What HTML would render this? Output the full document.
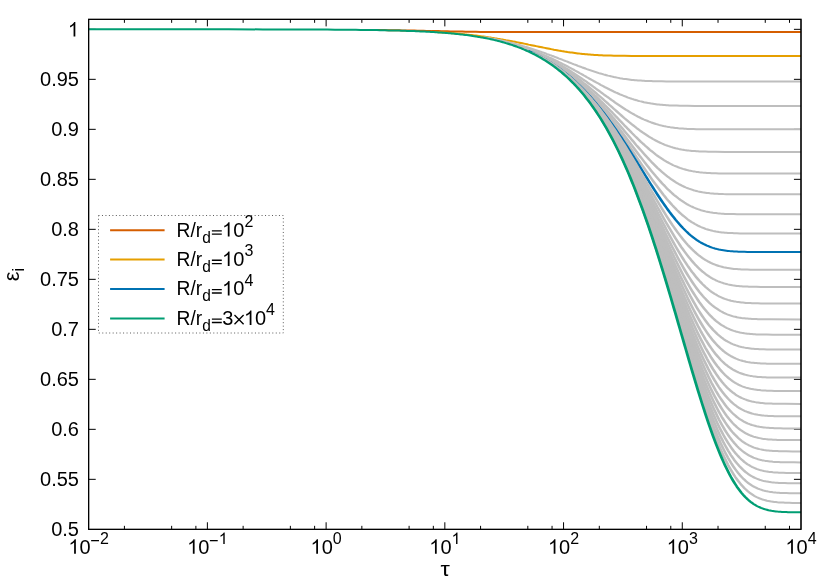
<!DOCTYPE html>
<html><head><meta charset="utf-8"><title>plot</title>
<style>
html,body{margin:0;padding:0;background:#fff;}
svg{display:block;will-change:transform;font-family:"Liberation Sans",sans-serif;font-size:20px;fill:#000;}
</style></head><body>
<svg width="830" height="581" viewBox="0 0 830 581">
<rect width="830" height="581" fill="#fff"/>
<path d="M124.41,529.33 v-3.5 M124.41,19.33 v3.5 M171.65,529.33 v-3.5 M171.65,19.33 v3.5 M195.89,529.33 v-3.5 M195.89,19.33 v3.5 M207.39,529.33 v-7.05 M207.39,19.33 v7.05 M243.13,529.33 v-3.5 M243.13,19.33 v3.5 M290.37,529.33 v-3.5 M290.37,19.33 v3.5 M314.61,529.33 v-3.5 M314.61,19.33 v3.5 M326.11,529.33 v-7.05 M326.11,19.33 v7.05 M361.85,529.33 v-3.5 M361.85,19.33 v3.5 M409.10,529.33 v-3.5 M409.10,19.33 v3.5 M433.33,529.33 v-3.5 M433.33,19.33 v3.5 M444.84,529.33 v-7.05 M444.84,19.33 v7.05 M480.57,529.33 v-3.5 M480.57,19.33 v3.5 M527.82,529.33 v-3.5 M527.82,19.33 v3.5 M552.05,529.33 v-3.5 M552.05,19.33 v3.5 M563.56,529.33 v-7.05 M563.56,19.33 v7.05 M599.30,529.33 v-3.5 M599.30,19.33 v3.5 M646.54,529.33 v-3.5 M646.54,19.33 v3.5 M670.77,529.33 v-3.5 M670.77,19.33 v3.5 M682.28,529.33 v-7.05 M682.28,19.33 v7.05 M718.02,529.33 v-3.5 M718.02,19.33 v3.5 M765.26,529.33 v-3.5 M765.26,19.33 v3.5 M789.49,529.33 v-3.5 M789.49,19.33 v3.5 M88.67,479.33 h7.05 M801.0,479.33 h-7.05 M88.67,429.33 h7.05 M801.0,429.33 h-7.05 M88.67,379.33 h7.05 M801.0,379.33 h-7.05 M88.67,329.33 h7.05 M801.0,329.33 h-7.05 M88.67,279.33 h7.05 M801.0,279.33 h-7.05 M88.67,229.33 h7.05 M801.0,229.33 h-7.05 M88.67,179.33 h7.05 M801.0,179.33 h-7.05 M88.67,129.33 h7.05 M801.0,129.33 h-7.05 M88.67,79.33 h7.05 M801.0,79.33 h-7.05 M88.67,29.33 h7.05 M801.0,29.33 h-7.05" stroke="#000" stroke-width="1" fill="none"/>
<clipPath id="c"><rect x="88.67" y="19.33" width="712.33" height="510.00"/></clipPath>
<g clip-path="url(#c)"><g transform="scale(1.4,1)" fill="none" stroke-width="2" stroke-linejoin="round">
<path d="M269.21,30.0 L272.43,30.1 L274.57,30.1 L276.71,30.2 L278.86,30.2 L281.00,30.2 L283.14,30.3 L285.29,30.3 L287.43,30.4 L289.57,30.5 L291.71,30.5 L293.86,30.6 L296.00,30.6 L298.14,30.7 L300.29,30.8 L302.43,30.8 L304.57,30.9 L306.71,30.9 L308.86,31.0 L311.00,31.1 L313.14,31.1 L315.29,31.2 L317.43,31.3 L319.57,31.3 L321.71,31.4 L323.86,31.5 L326.00,31.5 L328.14,31.6 L330.29,31.6 L332.43,31.7 L334.57,31.7 L336.71,31.8 L339.93,31.8 L343.14,31.9 L347.43,31.9 L352.79,32.0 L363.50,32.0 L572.50,32.0" stroke="#D55E00"/>
<path d="M307.79,31.8 L308.86,31.9 L309.93,32.0 L311.00,32.0 L312.07,32.1 L313.14,32.2 L314.21,32.3 L315.29,32.4 L316.36,32.5 L317.43,32.6 L318.50,32.7 L319.57,32.8 L320.64,32.9 L321.71,33.0 L322.79,33.2 L323.86,33.3 L324.93,33.4 L326.00,33.5 L327.07,33.7 L328.14,33.8 L329.21,34.0 L330.29,34.1 L331.36,34.2 L332.43,34.4 L333.50,34.6 L334.57,34.7 L335.64,34.9 L336.71,35.0 L337.79,35.2 L338.86,35.4 L339.93,35.6 L341.00,35.8 L342.07,36.0 L343.14,36.2 L344.21,36.4 L345.29,36.6 L346.36,36.8 L347.43,37.0 L348.50,37.2 L349.57,37.4 L350.64,37.6 L351.71,37.9 L352.79,38.1 L353.86,38.4 L354.93,38.6 L356.00,38.9 L357.07,39.1 L358.14,39.4 L359.21,39.6 L360.29,39.9 L361.36,40.2 L362.43,40.4 L363.50,40.7 L364.57,41.0 L365.64,41.3 L366.71,41.6 L367.79,41.8 L368.86,42.1 L369.93,42.4 L371.00,42.7 L372.07,43.0 L373.14,43.3 L374.21,43.6 L375.29,43.9 L376.36,44.2 L377.43,44.6 L378.50,44.9 L379.57,45.2 L380.64,45.5 L381.71,45.8 L382.79,46.1 L383.86,46.4 L384.93,46.7 L386.00,47.0 L387.07,47.3 L388.14,47.6 L389.21,47.9 L390.29,48.2 L391.36,48.5 L392.43,48.8 L393.50,49.1 L394.57,49.4 L395.64,49.7 L396.71,49.9 L397.79,50.2 L398.86,50.5 L399.93,50.7 L401.00,51.0 L402.07,51.2 L403.14,51.5 L404.21,51.7 L405.29,52.0 L406.36,52.2 L407.43,52.4 L408.50,52.6 L409.57,52.8 L410.64,53.0 L411.71,53.2 L412.79,53.4 L413.86,53.6 L414.93,53.7 L416.00,53.9 L417.07,54.0 L418.14,54.2 L419.21,54.3 L420.29,54.5 L421.36,54.6 L422.43,54.7 L423.50,54.8 L424.57,54.9 L425.64,55.0 L426.71,55.1 L427.79,55.2 L428.86,55.2 L429.93,55.3 L431.00,55.4 L432.07,55.4 L433.14,55.5 L434.21,55.5 L435.29,55.6 L436.36,55.6 L438.50,55.7 L440.64,55.7 L442.79,55.8 L446.00,55.8 L451.36,55.9 L572.50,55.9" stroke="#E69F00"/>
<path d="M345.29,37.1 L346.36,37.4 L347.43,37.6 L348.50,37.9 L349.57,38.1 L350.64,38.4 L351.71,38.7 L352.79,39.0 L353.86,39.3 L354.93,39.6 L356.00,39.9 L357.07,40.2 L358.14,40.5 L359.21,40.9 L360.29,41.2 L361.36,41.5 L362.43,41.9 L363.50,42.3 L364.57,42.6 L365.64,43.0 L366.71,43.4 L367.79,43.8 L368.86,44.2 L369.93,44.6 L371.00,45.0 L372.07,45.4 L373.14,45.9 L374.21,46.3 L375.29,46.8 L376.36,47.2 L377.43,47.7 L378.50,48.1 L379.57,48.6 L380.64,49.1 L381.71,49.6 L382.79,50.1 L383.86,50.6 L384.93,51.1 L386.00,51.6 L387.07,52.2 L388.14,52.7 L389.21,53.2 L390.29,53.8 L391.36,54.3 L392.43,54.9 L393.50,55.4 L394.57,56.0 L395.64,56.5 L396.71,57.1 L397.79,57.7 L398.86,58.3 L399.93,58.8 L401.00,59.4 L402.07,60.0 L403.14,60.6 L404.21,61.2 L405.29,61.7 L406.36,62.3 L407.43,62.9 L408.50,63.5 L409.57,64.1 L410.64,64.6 L411.71,65.2 L412.79,65.8 L413.86,66.3 L414.93,66.9 L416.00,67.5 L417.07,68.0 L418.14,68.5 L419.21,69.1 L420.29,69.6 L421.36,70.1 L422.43,70.6 L423.50,71.1 L424.57,71.6 L425.64,72.1 L426.71,72.6 L427.79,73.1 L428.86,73.5 L429.93,73.9 L431.00,74.4 L432.07,74.8 L433.14,75.2 L434.21,75.6 L435.29,75.9 L436.36,76.3 L437.43,76.6 L438.50,77.0 L439.57,77.3 L440.64,77.6 L441.71,77.9 L442.79,78.2 L443.86,78.4 L444.93,78.7 L446.00,78.9 L447.07,79.1 L448.14,79.3 L449.21,79.5 L450.29,79.7 L451.36,79.9 L452.43,80.0 L453.50,80.2 L454.57,80.3 L455.64,80.4 L456.71,80.5 L457.79,80.6 L458.86,80.7 L459.93,80.8 L461.00,80.9 L462.07,80.9 L463.14,81.0 L464.21,81.1 L465.29,81.1 L466.36,81.2 L468.50,81.2 L470.64,81.3 L472.79,81.3 L476.00,81.4 L483.50,81.4 L572.50,81.4" stroke="#BEBEBE"/>
<path d="M352.79,39.3 L353.86,39.6 L354.93,39.9 L356.00,40.3 L357.07,40.6 L358.14,41.0 L359.21,41.3 L360.29,41.7 L361.36,42.1 L362.43,42.4 L363.50,42.8 L364.57,43.2 L365.64,43.7 L366.71,44.1 L367.79,44.5 L368.86,45.0 L369.93,45.4 L371.00,45.9 L372.07,46.4 L373.14,46.9 L374.21,47.4 L375.29,47.9 L376.36,48.4 L377.43,48.9 L378.50,49.5 L379.57,50.0 L380.64,50.6 L381.71,51.1 L382.79,51.7 L383.86,52.3 L384.93,52.9 L386.00,53.6 L387.07,54.2 L388.14,54.8 L389.21,55.5 L390.29,56.1 L391.36,56.8 L392.43,57.5 L393.50,58.2 L394.57,58.9 L395.64,59.6 L396.71,60.3 L397.79,61.0 L398.86,61.8 L399.93,62.5 L401.00,63.3 L402.07,64.1 L403.14,64.8 L404.21,65.6 L405.29,66.4 L406.36,67.2 L407.43,68.0 L408.50,68.8 L409.57,69.6 L410.64,70.5 L411.71,71.3 L412.79,72.1 L413.86,73.0 L414.93,73.8 L416.00,74.6 L417.07,75.5 L418.14,76.3 L419.21,77.2 L420.29,78.0 L421.36,78.9 L422.43,79.7 L423.50,80.5 L424.57,81.4 L425.64,82.2 L426.71,83.0 L427.79,83.8 L428.86,84.7 L429.93,85.5 L431.00,86.3 L432.07,87.1 L433.14,87.8 L434.21,88.6 L435.29,89.4 L436.36,90.1 L437.43,90.8 L438.50,91.6 L439.57,92.3 L440.64,92.9 L441.71,93.6 L442.79,94.3 L443.86,94.9 L444.93,95.5 L446.00,96.1 L447.07,96.7 L448.14,97.3 L449.21,97.8 L450.29,98.3 L451.36,98.9 L452.43,99.3 L453.50,99.8 L454.57,100.2 L455.64,100.7 L456.71,101.1 L457.79,101.4 L458.86,101.8 L459.93,102.2 L461.00,102.5 L462.07,102.8 L463.14,103.1 L464.21,103.3 L465.29,103.6 L466.36,103.8 L467.43,104.0 L468.50,104.2 L469.57,104.4 L470.64,104.5 L471.71,104.7 L472.79,104.8 L473.86,105.0 L474.93,105.1 L476.00,105.2 L477.07,105.3 L478.14,105.4 L479.21,105.4 L480.29,105.5 L481.36,105.5 L482.43,105.6 L483.50,105.6 L485.64,105.7 L487.79,105.8 L491.00,105.8 L496.36,105.9 L572.50,105.9" stroke="#BEBEBE"/>
<path d="M357.07,40.8 L358.14,41.2 L359.21,41.5 L360.29,41.9 L361.36,42.3 L362.43,42.7 L363.50,43.1 L364.57,43.6 L365.64,44.0 L366.71,44.5 L367.79,44.9 L368.86,45.4 L369.93,45.9 L371.00,46.4 L372.07,46.9 L373.14,47.4 L374.21,47.9 L375.29,48.5 L376.36,49.0 L377.43,49.6 L378.50,50.2 L379.57,50.8 L380.64,51.4 L381.71,52.0 L382.79,52.6 L383.86,53.3 L384.93,53.9 L386.00,54.6 L387.07,55.3 L388.14,56.0 L389.21,56.7 L390.29,57.4 L391.36,58.2 L392.43,58.9 L393.50,59.7 L394.57,60.5 L395.64,61.3 L396.71,62.1 L397.79,62.9 L398.86,63.8 L399.93,64.6 L401.00,65.5 L402.07,66.4 L403.14,67.3 L404.21,68.2 L405.29,69.1 L406.36,70.0 L407.43,71.0 L408.50,72.0 L409.57,72.9 L410.64,73.9 L411.71,74.9 L412.79,75.9 L413.86,76.9 L414.93,77.9 L416.00,79.0 L417.07,80.0 L418.14,81.1 L419.21,82.1 L420.29,83.2 L421.36,84.3 L422.43,85.3 L423.50,86.4 L424.57,87.5 L425.64,88.6 L426.71,89.7 L427.79,90.8 L428.86,91.9 L429.93,93.0 L431.00,94.1 L432.07,95.2 L433.14,96.3 L434.21,97.3 L435.29,98.4 L436.36,99.5 L437.43,100.6 L438.50,101.6 L439.57,102.7 L440.64,103.7 L441.71,104.7 L442.79,105.7 L443.86,106.7 L444.93,107.7 L446.00,108.7 L447.07,109.7 L448.14,110.6 L449.21,111.5 L450.29,112.4 L451.36,113.3 L452.43,114.1 L453.50,115.0 L454.57,115.8 L455.64,116.6 L456.71,117.3 L457.79,118.1 L458.86,118.8 L459.93,119.5 L461.00,120.1 L462.07,120.7 L463.14,121.4 L464.21,121.9 L465.29,122.5 L466.36,123.0 L467.43,123.5 L468.50,124.0 L469.57,124.4 L470.64,124.9 L471.71,125.3 L472.79,125.6 L473.86,126.0 L474.93,126.3 L476.00,126.6 L477.07,126.9 L478.14,127.1 L479.21,127.4 L480.29,127.6 L481.36,127.8 L482.43,128.0 L483.50,128.1 L484.57,128.3 L485.64,128.4 L486.71,128.5 L487.79,128.6 L488.86,128.7 L489.93,128.8 L491.00,128.9 L492.07,129.0 L493.14,129.0 L494.21,129.1 L495.29,129.1 L497.43,129.2 L499.57,129.2 L502.79,129.3 L509.21,129.3 L572.50,129.3" stroke="#BEBEBE"/>
<path d="M361.36,42.5 L362.43,42.9 L363.50,43.3 L364.57,43.8 L365.64,44.2 L366.71,44.7 L367.79,45.2 L368.86,45.6 L369.93,46.1 L371.00,46.6 L372.07,47.2 L373.14,47.7 L374.21,48.3 L375.29,48.8 L376.36,49.4 L377.43,50.0 L378.50,50.6 L379.57,51.2 L380.64,51.9 L381.71,52.5 L382.79,53.2 L383.86,53.8 L384.93,54.5 L386.00,55.3 L387.07,56.0 L388.14,56.7 L389.21,57.5 L390.29,58.3 L391.36,59.0 L392.43,59.9 L393.50,60.7 L394.57,61.5 L395.64,62.4 L396.71,63.3 L397.79,64.1 L398.86,65.1 L399.93,66.0 L401.00,66.9 L402.07,67.9 L403.14,68.9 L404.21,69.9 L405.29,70.9 L406.36,71.9 L407.43,72.9 L408.50,74.0 L409.57,75.1 L410.64,76.2 L411.71,77.3 L412.79,78.4 L413.86,79.5 L414.93,80.7 L416.00,81.9 L417.07,83.1 L418.14,84.2 L419.21,85.5 L420.29,86.7 L421.36,87.9 L422.43,89.2 L423.50,90.4 L424.57,91.7 L425.64,93.0 L426.71,94.3 L427.79,95.6 L428.86,96.9 L429.93,98.2 L431.00,99.5 L432.07,100.9 L433.14,102.2 L434.21,103.5 L435.29,104.9 L436.36,106.2 L437.43,107.5 L438.50,108.9 L439.57,110.2 L440.64,111.5 L441.71,112.8 L442.79,114.2 L443.86,115.5 L444.93,116.8 L446.00,118.1 L447.07,119.3 L448.14,120.6 L449.21,121.9 L450.29,123.1 L451.36,124.3 L452.43,125.5 L453.50,126.7 L454.57,127.9 L455.64,129.0 L456.71,130.1 L457.79,131.2 L458.86,132.3 L459.93,133.3 L461.00,134.3 L462.07,135.3 L463.14,136.3 L464.21,137.2 L465.29,138.1 L466.36,139.0 L467.43,139.8 L468.50,140.6 L469.57,141.4 L470.64,142.1 L471.71,142.8 L472.79,143.5 L473.86,144.2 L474.93,144.8 L476.00,145.3 L477.07,145.9 L478.14,146.4 L479.21,146.9 L480.29,147.3 L481.36,147.8 L482.43,148.2 L483.50,148.5 L484.57,148.9 L485.64,149.2 L486.71,149.5 L487.79,149.7 L488.86,150.0 L489.93,150.2 L491.00,150.4 L492.07,150.6 L493.14,150.7 L494.21,150.9 L495.29,151.0 L496.36,151.1 L497.43,151.2 L498.50,151.3 L499.57,151.4 L500.64,151.5 L501.71,151.5 L502.79,151.6 L503.86,151.6 L506.00,151.7 L508.14,151.8 L511.36,151.8 L517.79,151.9 L572.50,151.9" stroke="#BEBEBE"/>
<path d="M365.64,44.4 L366.71,44.8 L367.79,45.3 L368.86,45.8 L369.93,46.3 L371.00,46.8 L372.07,47.4 L373.14,47.9 L374.21,48.5 L375.29,49.1 L376.36,49.7 L377.43,50.3 L378.50,50.9 L379.57,51.5 L380.64,52.2 L381.71,52.9 L382.79,53.5 L383.86,54.2 L384.93,55.0 L386.00,55.7 L387.07,56.5 L388.14,57.2 L389.21,58.0 L390.29,58.8 L391.36,59.6 L392.43,60.5 L393.50,61.4 L394.57,62.2 L395.64,63.1 L396.71,64.0 L397.79,65.0 L398.86,65.9 L399.93,66.9 L401.00,67.9 L402.07,68.9 L403.14,70.0 L404.21,71.0 L405.29,72.1 L406.36,73.2 L407.43,74.3 L408.50,75.4 L409.57,76.6 L410.64,77.8 L411.71,79.0 L412.79,80.2 L413.86,81.4 L414.93,82.7 L416.00,83.9 L417.07,85.2 L418.14,86.5 L419.21,87.9 L420.29,89.2 L421.36,90.6 L422.43,91.9 L423.50,93.3 L424.57,94.8 L425.64,96.2 L426.71,97.6 L427.79,99.1 L428.86,100.6 L429.93,102.0 L431.00,103.5 L432.07,105.1 L433.14,106.6 L434.21,108.1 L435.29,109.6 L436.36,111.2 L437.43,112.7 L438.50,114.3 L439.57,115.9 L440.64,117.4 L441.71,119.0 L442.79,120.6 L443.86,122.1 L444.93,123.7 L446.00,125.3 L447.07,126.8 L448.14,128.4 L449.21,129.9 L450.29,131.4 L451.36,133.0 L452.43,134.5 L453.50,136.0 L454.57,137.4 L455.64,138.9 L456.71,140.3 L457.79,141.8 L458.86,143.2 L459.93,144.5 L461.00,145.9 L462.07,147.2 L463.14,148.5 L464.21,149.8 L465.29,151.0 L466.36,152.2 L467.43,153.4 L468.50,154.6 L469.57,155.7 L470.64,156.8 L471.71,157.8 L472.79,158.8 L473.86,159.8 L474.93,160.7 L476.00,161.6 L477.07,162.4 L478.14,163.2 L479.21,164.0 L480.29,164.8 L481.36,165.5 L482.43,166.1 L483.50,166.7 L484.57,167.3 L485.64,167.9 L486.71,168.4 L487.79,168.9 L488.86,169.3 L489.93,169.7 L491.00,170.1 L492.07,170.5 L493.14,170.8 L494.21,171.1 L495.29,171.4 L496.36,171.6 L497.43,171.9 L498.50,172.1 L499.57,172.3 L500.64,172.4 L501.71,172.6 L502.79,172.7 L503.86,172.8 L504.93,172.9 L506.00,173.0 L507.07,173.1 L508.14,173.2 L509.21,173.2 L510.29,173.3 L511.36,173.3 L513.50,173.4 L515.64,173.4 L518.86,173.5 L527.43,173.5 L572.50,173.5" stroke="#BEBEBE"/>
<path d="M368.86,45.9 L369.93,46.4 L371.00,47.0 L372.07,47.5 L373.14,48.1 L374.21,48.7 L375.29,49.2 L376.36,49.9 L377.43,50.5 L378.50,51.1 L379.57,51.8 L380.64,52.4 L381.71,53.1 L382.79,53.8 L383.86,54.5 L384.93,55.3 L386.00,56.0 L387.07,56.8 L388.14,57.6 L389.21,58.4 L390.29,59.2 L391.36,60.1 L392.43,61.0 L393.50,61.8 L394.57,62.8 L395.64,63.7 L396.71,64.6 L397.79,65.6 L398.86,66.6 L399.93,67.6 L401.00,68.6 L402.07,69.7 L403.14,70.8 L404.21,71.9 L405.29,73.0 L406.36,74.1 L407.43,75.3 L408.50,76.5 L409.57,77.7 L410.64,78.9 L411.71,80.2 L412.79,81.5 L413.86,82.8 L414.93,84.1 L416.00,85.5 L417.07,86.8 L418.14,88.2 L419.21,89.6 L420.29,91.1 L421.36,92.5 L422.43,94.0 L423.50,95.5 L424.57,97.1 L425.64,98.6 L426.71,100.2 L427.79,101.7 L428.86,103.3 L429.93,105.0 L431.00,106.6 L432.07,108.3 L433.14,109.9 L434.21,111.6 L435.29,113.3 L436.36,115.0 L437.43,116.8 L438.50,118.5 L439.57,120.3 L440.64,122.0 L441.71,123.8 L442.79,125.6 L443.86,127.3 L444.93,129.1 L446.00,130.9 L447.07,132.7 L448.14,134.5 L449.21,136.3 L450.29,138.1 L451.36,139.9 L452.43,141.6 L453.50,143.4 L454.57,145.2 L455.64,146.9 L456.71,148.6 L457.79,150.3 L458.86,152.0 L459.93,153.7 L461.00,155.4 L462.07,157.0 L463.14,158.6 L464.21,160.2 L465.29,161.8 L466.36,163.3 L467.43,164.8 L468.50,166.3 L469.57,167.8 L470.64,169.2 L471.71,170.5 L472.79,171.9 L473.86,173.1 L474.93,174.4 L476.00,175.6 L477.07,176.8 L478.14,177.9 L479.21,179.0 L480.29,180.0 L481.36,181.0 L482.43,182.0 L483.50,182.9 L484.57,183.8 L485.64,184.6 L486.71,185.4 L487.79,186.1 L488.86,186.8 L489.93,187.5 L491.00,188.1 L492.07,188.7 L493.14,189.2 L494.21,189.7 L495.29,190.2 L496.36,190.6 L497.43,191.0 L498.50,191.4 L499.57,191.7 L500.64,192.0 L501.71,192.3 L502.79,192.5 L503.86,192.7 L504.93,192.9 L506.00,193.1 L507.07,193.3 L508.14,193.4 L509.21,193.5 L510.29,193.7 L511.36,193.8 L512.43,193.8 L513.50,193.9 L514.57,194.0 L515.64,194.0 L516.71,194.1 L518.86,194.2 L521.00,194.2 L524.21,194.3 L531.71,194.3 L572.50,194.3" stroke="#BEBEBE"/>
<path d="M372.07,47.6 L373.14,48.2 L374.21,48.8 L375.29,49.4 L376.36,50.0 L377.43,50.6 L378.50,51.3 L379.57,51.9 L380.64,52.6 L381.71,53.3 L382.79,54.0 L383.86,54.8 L384.93,55.5 L386.00,56.3 L387.07,57.1 L388.14,57.9 L389.21,58.7 L390.29,59.6 L391.36,60.4 L392.43,61.3 L393.50,62.2 L394.57,63.1 L395.64,64.1 L396.71,65.1 L397.79,66.1 L398.86,67.1 L399.93,68.1 L401.00,69.2 L402.07,70.3 L403.14,71.4 L404.21,72.5 L405.29,73.7 L406.36,74.9 L407.43,76.1 L408.50,77.3 L409.57,78.6 L410.64,79.9 L411.71,81.2 L412.79,82.5 L413.86,83.9 L414.93,85.2 L416.00,86.7 L417.07,88.1 L418.14,89.6 L419.21,91.0 L420.29,92.5 L421.36,94.1 L422.43,95.6 L423.50,97.2 L424.57,98.8 L425.64,100.5 L426.71,102.1 L427.79,103.8 L428.86,105.5 L429.93,107.3 L431.00,109.0 L432.07,110.8 L433.14,112.6 L434.21,114.4 L435.29,116.2 L436.36,118.1 L437.43,120.0 L438.50,121.9 L439.57,123.8 L440.64,125.7 L441.71,127.6 L442.79,129.6 L443.86,131.5 L444.93,133.5 L446.00,135.5 L447.07,137.5 L448.14,139.5 L449.21,141.5 L450.29,143.5 L451.36,145.5 L452.43,147.5 L453.50,149.5 L454.57,151.5 L455.64,153.5 L456.71,155.5 L457.79,157.4 L458.86,159.4 L459.93,161.4 L461.00,163.3 L462.07,165.2 L463.14,167.1 L464.21,169.0 L465.29,170.9 L466.36,172.7 L467.43,174.5 L468.50,176.3 L469.57,178.0 L470.64,179.7 L471.71,181.4 L472.79,183.1 L473.86,184.7 L474.93,186.2 L476.00,187.8 L477.07,189.3 L478.14,190.7 L479.21,192.1 L480.29,193.5 L481.36,194.8 L482.43,196.0 L483.50,197.2 L484.57,198.4 L485.64,199.5 L486.71,200.6 L487.79,201.6 L488.86,202.6 L489.93,203.5 L491.00,204.4 L492.07,205.2 L493.14,206.0 L494.21,206.7 L495.29,207.4 L496.36,208.0 L497.43,208.6 L498.50,209.2 L499.57,209.7 L500.64,210.2 L501.71,210.6 L502.79,211.0 L503.86,211.4 L504.93,211.7 L506.00,212.0 L507.07,212.3 L508.14,212.5 L509.21,212.8 L510.29,213.0 L511.36,213.1 L512.43,213.3 L513.50,213.4 L514.57,213.6 L515.64,213.7 L516.71,213.8 L517.79,213.9 L518.86,213.9 L519.93,214.0 L521.00,214.0 L522.07,214.1 L524.21,214.1 L526.36,214.2 L529.57,214.2 L540.29,214.3 L572.50,214.3" stroke="#BEBEBE"/>
<path d="M374.21,48.9 L375.29,49.5 L376.36,50.1 L377.43,50.7 L378.50,51.4 L379.57,52.1 L380.64,52.8 L381.71,53.5 L382.79,54.2 L383.86,54.9 L384.93,55.7 L386.00,56.5 L387.07,57.3 L388.14,58.1 L389.21,58.9 L390.29,59.8 L391.36,60.7 L392.43,61.6 L393.50,62.5 L394.57,63.5 L395.64,64.4 L396.71,65.4 L397.79,66.4 L398.86,67.5 L399.93,68.5 L401.00,69.6 L402.07,70.8 L403.14,71.9 L404.21,73.1 L405.29,74.2 L406.36,75.5 L407.43,76.7 L408.50,78.0 L409.57,79.3 L410.64,80.6 L411.71,81.9 L412.79,83.3 L413.86,84.7 L414.93,86.1 L416.00,87.6 L417.07,89.1 L418.14,90.6 L419.21,92.2 L420.29,93.7 L421.36,95.3 L422.43,97.0 L423.50,98.6 L424.57,100.3 L425.64,102.0 L426.71,103.7 L427.79,105.5 L428.86,107.3 L429.93,109.1 L431.00,111.0 L432.07,112.8 L433.14,114.7 L434.21,116.7 L435.29,118.6 L436.36,120.6 L437.43,122.6 L438.50,124.6 L439.57,126.6 L440.64,128.7 L441.71,130.8 L442.79,132.9 L443.86,135.0 L444.93,137.1 L446.00,139.2 L447.07,141.4 L448.14,143.6 L449.21,145.7 L450.29,147.9 L451.36,150.1 L452.43,152.3 L453.50,154.5 L454.57,156.8 L455.64,159.0 L456.71,161.2 L457.79,163.4 L458.86,165.6 L459.93,167.8 L461.00,170.0 L462.07,172.1 L463.14,174.3 L464.21,176.4 L465.29,178.6 L466.36,180.7 L467.43,182.7 L468.50,184.8 L469.57,186.8 L470.64,188.8 L471.71,190.8 L472.79,192.8 L473.86,194.7 L474.93,196.5 L476.00,198.4 L477.07,200.2 L478.14,201.9 L479.21,203.6 L480.29,205.3 L481.36,206.9 L482.43,208.4 L483.50,210.0 L484.57,211.4 L485.64,212.8 L486.71,214.2 L487.79,215.5 L488.86,216.7 L489.93,217.9 L491.00,219.1 L492.07,220.2 L493.14,221.2 L494.21,222.2 L495.29,223.1 L496.36,224.0 L497.43,224.8 L498.50,225.6 L499.57,226.3 L500.64,227.0 L501.71,227.6 L502.79,228.2 L503.86,228.8 L504.93,229.3 L506.00,229.7 L507.07,230.1 L508.14,230.5 L509.21,230.9 L510.29,231.2 L511.36,231.5 L512.43,231.7 L513.50,232.0 L514.57,232.2 L515.64,232.4 L516.71,232.5 L517.79,232.7 L518.86,232.8 L519.93,232.9 L521.00,233.0 L522.07,233.1 L523.14,233.1 L524.21,233.2 L525.29,233.3 L526.36,233.3 L528.50,233.4 L530.64,233.4 L533.86,233.5 L547.79,233.5 L572.50,233.5" stroke="#BEBEBE"/>
<path d="M377.43,50.8 L378.50,51.5 L379.57,52.2 L380.64,52.9 L381.71,53.6 L382.79,54.3 L383.86,55.1 L384.93,55.8 L386.00,56.6 L387.07,57.4 L388.14,58.3 L389.21,59.1 L390.29,60.0 L391.36,60.9 L392.43,61.8 L393.50,62.8 L394.57,63.7 L395.64,64.7 L396.71,65.7 L397.79,66.7 L398.86,67.8 L399.93,68.9 L401.00,70.0 L402.07,71.1 L403.14,72.3 L404.21,73.5 L405.29,74.7 L406.36,75.9 L407.43,77.2 L408.50,78.5 L409.57,79.8 L410.64,81.2 L411.71,82.6 L412.79,84.0 L413.86,85.4 L414.93,86.9 L416.00,88.4 L417.07,89.9 L418.14,91.5 L419.21,93.1 L420.29,94.7 L421.36,96.3 L422.43,98.0 L423.50,99.7 L424.57,101.5 L425.64,103.2 L426.71,105.1 L427.79,106.9 L428.86,108.8 L429.93,110.7 L431.00,112.6 L432.07,114.5 L433.14,116.5 L434.21,118.5 L435.29,120.6 L436.36,122.6 L437.43,124.7 L438.50,126.9 L439.57,129.0 L440.64,131.2 L441.71,133.4 L442.79,135.6 L443.86,137.8 L444.93,140.1 L446.00,142.4 L447.07,144.7 L448.14,147.0 L449.21,149.3 L450.29,151.7 L451.36,154.1 L452.43,156.4 L453.50,158.8 L454.57,161.2 L455.64,163.6 L456.71,166.0 L457.79,168.4 L458.86,170.8 L459.93,173.2 L461.00,175.6 L462.07,178.0 L463.14,180.4 L464.21,182.8 L465.29,185.2 L466.36,187.5 L467.43,189.9 L468.50,192.2 L469.57,194.5 L470.64,196.7 L471.71,199.0 L472.79,201.2 L473.86,203.4 L474.93,205.5 L476.00,207.6 L477.07,209.7 L478.14,211.8 L479.21,213.7 L480.29,215.7 L481.36,217.6 L482.43,219.5 L483.50,221.3 L484.57,223.0 L485.64,224.7 L486.71,226.4 L487.79,228.0 L488.86,229.5 L489.93,231.0 L491.00,232.4 L492.07,233.8 L493.14,235.1 L494.21,236.3 L495.29,237.5 L496.36,238.6 L497.43,239.7 L498.50,240.7 L499.57,241.7 L500.64,242.6 L501.71,243.4 L502.79,244.2 L503.86,244.9 L504.93,245.6 L506.00,246.2 L507.07,246.8 L508.14,247.4 L509.21,247.9 L510.29,248.3 L511.36,248.8 L512.43,249.1 L513.50,249.5 L514.57,249.8 L515.64,250.1 L516.71,250.3 L517.79,250.5 L518.86,250.7 L519.93,250.9 L521.00,251.1 L522.07,251.2 L523.14,251.3 L524.21,251.4 L525.29,251.5 L526.36,251.6 L527.43,251.7 L528.50,251.7 L529.57,251.8 L531.71,251.8 L533.86,251.9 L537.07,251.9 L546.71,252.0 L572.50,252.0" stroke="#0072B2"/>
<path d="M379.57,52.3 L380.64,53.0 L381.71,53.7 L382.79,54.4 L383.86,55.2 L384.93,56.0 L386.00,56.8 L387.07,57.6 L388.14,58.4 L389.21,59.3 L390.29,60.2 L391.36,61.1 L392.43,62.0 L393.50,62.9 L394.57,63.9 L395.64,64.9 L396.71,65.9 L397.79,67.0 L398.86,68.1 L399.93,69.2 L401.00,70.3 L402.07,71.4 L403.14,72.6 L404.21,73.8 L405.29,75.1 L406.36,76.3 L407.43,77.6 L408.50,78.9 L409.57,80.3 L410.64,81.7 L411.71,83.1 L412.79,84.5 L413.86,86.0 L414.93,87.5 L416.00,89.0 L417.07,90.6 L418.14,92.2 L419.21,93.8 L420.29,95.5 L421.36,97.2 L422.43,98.9 L423.50,100.7 L424.57,102.5 L425.64,104.3 L426.71,106.1 L427.79,108.0 L428.86,110.0 L429.93,111.9 L431.00,113.9 L432.07,115.9 L433.14,118.0 L434.21,120.1 L435.29,122.2 L436.36,124.4 L437.43,126.6 L438.50,128.8 L439.57,131.0 L440.64,133.3 L441.71,135.6 L442.79,137.9 L443.86,140.3 L444.93,142.6 L446.00,145.0 L447.07,147.5 L448.14,149.9 L449.21,152.4 L450.29,154.9 L451.36,157.4 L452.43,159.9 L453.50,162.5 L454.57,165.0 L455.64,167.6 L456.71,170.2 L457.79,172.7 L458.86,175.3 L459.93,177.9 L461.00,180.5 L462.07,183.1 L463.14,185.7 L464.21,188.3 L465.29,190.9 L466.36,193.5 L467.43,196.0 L468.50,198.6 L469.57,201.1 L470.64,203.6 L471.71,206.1 L472.79,208.6 L473.86,211.0 L474.93,213.4 L476.00,215.8 L477.07,218.2 L478.14,220.5 L479.21,222.7 L480.29,225.0 L481.36,227.1 L482.43,229.3 L483.50,231.4 L484.57,233.4 L485.64,235.4 L486.71,237.3 L487.79,239.2 L488.86,241.0 L489.93,242.8 L491.00,244.5 L492.07,246.1 L493.14,247.7 L494.21,249.2 L495.29,250.6 L496.36,252.0 L497.43,253.3 L498.50,254.6 L499.57,255.8 L500.64,256.9 L501.71,258.0 L502.79,259.0 L503.86,259.9 L504.93,260.8 L506.00,261.7 L507.07,262.4 L508.14,263.2 L509.21,263.8 L510.29,264.4 L511.36,265.0 L512.43,265.5 L513.50,266.0 L514.57,266.4 L515.64,266.8 L516.71,267.2 L517.79,267.5 L518.86,267.8 L519.93,268.1 L521.00,268.3 L522.07,268.5 L523.14,268.7 L524.21,268.9 L525.29,269.0 L526.36,269.1 L527.43,269.2 L528.50,269.3 L529.57,269.4 L530.64,269.5 L531.71,269.5 L532.79,269.6 L533.86,269.6 L536.00,269.7 L538.14,269.7 L542.43,269.8 L572.50,269.8" stroke="#BEBEBE"/>
<path d="M381.71,53.8 L382.79,54.5 L383.86,55.3 L384.93,56.1 L386.00,56.9 L387.07,57.7 L388.14,58.5 L389.21,59.4 L390.29,60.3 L391.36,61.2 L392.43,62.2 L393.50,63.1 L394.57,64.1 L395.64,65.1 L396.71,66.1 L397.79,67.2 L398.86,68.3 L399.93,69.4 L401.00,70.5 L402.07,71.7 L403.14,72.9 L404.21,74.1 L405.29,75.4 L406.36,76.7 L407.43,78.0 L408.50,79.3 L409.57,80.7 L410.64,82.1 L411.71,83.5 L412.79,85.0 L413.86,86.5 L414.93,88.0 L416.00,89.6 L417.07,91.2 L418.14,92.8 L419.21,94.5 L420.29,96.2 L421.36,97.9 L422.43,99.7 L423.50,101.5 L424.57,103.3 L425.64,105.2 L426.71,107.1 L427.79,109.0 L428.86,111.0 L429.93,113.0 L431.00,115.1 L432.07,117.2 L433.14,119.3 L434.21,121.4 L435.29,123.6 L436.36,125.8 L437.43,128.1 L438.50,130.4 L439.57,132.7 L440.64,135.1 L441.71,137.5 L442.79,139.9 L443.86,142.3 L444.93,144.8 L446.00,147.3 L447.07,149.9 L448.14,152.4 L449.21,155.0 L450.29,157.6 L451.36,160.3 L452.43,162.9 L453.50,165.6 L454.57,168.3 L455.64,171.0 L456.71,173.8 L457.79,176.5 L458.86,179.3 L459.93,182.0 L461.00,184.8 L462.07,187.6 L463.14,190.4 L464.21,193.1 L465.29,195.9 L466.36,198.7 L467.43,201.5 L468.50,204.2 L469.57,207.0 L470.64,209.7 L471.71,212.4 L472.79,215.1 L473.86,217.8 L474.93,220.5 L476.00,223.1 L477.07,225.7 L478.14,228.2 L479.21,230.7 L480.29,233.2 L481.36,235.7 L482.43,238.1 L483.50,240.4 L484.57,242.7 L485.64,245.0 L486.71,247.2 L487.79,249.3 L488.86,251.4 L489.93,253.4 L491.00,255.4 L492.07,257.3 L493.14,259.1 L494.21,260.9 L495.29,262.6 L496.36,264.3 L497.43,265.8 L498.50,267.4 L499.57,268.8 L500.64,270.2 L501.71,271.5 L502.79,272.7 L503.86,273.9 L504.93,275.0 L506.00,276.0 L507.07,277.0 L508.14,277.9 L509.21,278.8 L510.29,279.5 L511.36,280.3 L512.43,281.0 L513.50,281.6 L514.57,282.2 L515.64,282.7 L516.71,283.2 L517.79,283.6 L518.86,284.0 L519.93,284.4 L521.00,284.7 L522.07,285.0 L523.14,285.3 L524.21,285.5 L525.29,285.7 L526.36,285.9 L527.43,286.0 L528.50,286.2 L529.57,286.3 L530.64,286.4 L531.71,286.5 L532.79,286.6 L533.86,286.6 L534.93,286.7 L536.00,286.7 L538.14,286.8 L540.29,286.8 L543.50,286.9 L572.50,286.9" stroke="#BEBEBE"/>
<path d="M384.93,56.2 L386.00,57.0 L387.07,57.8 L388.14,58.6 L389.21,59.5 L390.29,60.4 L391.36,61.3 L392.43,62.3 L393.50,63.3 L394.57,64.2 L395.64,65.3 L396.71,66.3 L397.79,67.4 L398.86,68.5 L399.93,69.6 L401.00,70.7 L402.07,71.9 L403.14,73.1 L404.21,74.4 L405.29,75.6 L406.36,76.9 L407.43,78.3 L408.50,79.6 L409.57,81.0 L410.64,82.4 L411.71,83.9 L412.79,85.4 L413.86,86.9 L414.93,88.4 L416.00,90.0 L417.07,91.7 L418.14,93.3 L419.21,95.0 L420.29,96.7 L421.36,98.5 L422.43,100.3 L423.50,102.1 L424.57,104.0 L425.64,105.9 L426.71,107.9 L427.79,109.9 L428.86,111.9 L429.93,113.9 L431.00,116.0 L432.07,118.2 L433.14,120.4 L434.21,122.6 L435.29,124.8 L436.36,127.1 L437.43,129.4 L438.50,131.8 L439.57,134.2 L440.64,136.6 L441.71,139.1 L442.79,141.6 L443.86,144.1 L444.93,146.7 L446.00,149.3 L447.07,151.9 L448.14,154.6 L449.21,157.3 L450.29,160.0 L451.36,162.8 L452.43,165.6 L453.50,168.4 L454.57,171.2 L455.64,174.0 L456.71,176.9 L457.79,179.8 L458.86,182.7 L459.93,185.6 L461.00,188.5 L462.07,191.5 L463.14,194.4 L464.21,197.4 L465.29,200.3 L466.36,203.3 L467.43,206.2 L468.50,209.2 L469.57,212.1 L470.64,215.1 L471.71,218.0 L472.79,220.9 L473.86,223.8 L474.93,226.7 L476.00,229.5 L477.07,232.4 L478.14,235.2 L479.21,237.9 L480.29,240.6 L481.36,243.3 L482.43,246.0 L483.50,248.6 L484.57,251.1 L485.64,253.6 L486.71,256.1 L487.79,258.5 L488.86,260.9 L489.93,263.1 L491.00,265.4 L492.07,267.5 L493.14,269.6 L494.21,271.7 L495.29,273.6 L496.36,275.5 L497.43,277.4 L498.50,279.1 L499.57,280.8 L500.64,282.4 L501.71,284.0 L502.79,285.4 L503.86,286.8 L504.93,288.1 L506.00,289.4 L507.07,290.6 L508.14,291.7 L509.21,292.7 L510.29,293.7 L511.36,294.6 L512.43,295.5 L513.50,296.3 L514.57,297.0 L515.64,297.7 L516.71,298.3 L517.79,298.9 L518.86,299.4 L519.93,299.9 L521.00,300.3 L522.07,300.7 L523.14,301.0 L524.21,301.4 L525.29,301.6 L526.36,301.9 L527.43,302.1 L528.50,302.3 L529.57,302.5 L530.64,302.6 L531.71,302.7 L532.79,302.9 L533.86,303.0 L534.93,303.0 L536.00,303.1 L537.07,303.2 L538.14,303.2 L539.21,303.3 L541.36,303.3 L543.50,303.4 L547.79,303.4 L572.50,303.4" stroke="#BEBEBE"/>
<path d="M387.07,57.9 L388.14,58.7 L389.21,59.6 L390.29,60.5 L391.36,61.4 L392.43,62.4 L393.50,63.4 L394.57,64.4 L395.64,65.4 L396.71,66.5 L397.79,67.5 L398.86,68.6 L399.93,69.8 L401.00,70.9 L402.07,72.1 L403.14,73.3 L404.21,74.6 L405.29,75.9 L406.36,77.2 L407.43,78.5 L408.50,79.9 L409.57,81.3 L410.64,82.7 L411.71,84.2 L412.79,85.7 L413.86,87.2 L414.93,88.8 L416.00,90.4 L417.07,92.1 L418.14,93.8 L419.21,95.5 L420.29,97.2 L421.36,99.0 L422.43,100.9 L423.50,102.7 L424.57,104.6 L425.64,106.6 L426.71,108.6 L427.79,110.6 L428.86,112.7 L429.93,114.8 L431.00,116.9 L432.07,119.1 L433.14,121.3 L434.21,123.6 L435.29,125.9 L436.36,128.2 L437.43,130.6 L438.50,133.0 L439.57,135.5 L440.64,138.0 L441.71,140.5 L442.79,143.1 L443.86,145.7 L444.93,148.4 L446.00,151.0 L447.07,153.8 L448.14,156.5 L449.21,159.3 L450.29,162.1 L451.36,165.0 L452.43,167.9 L453.50,170.8 L454.57,173.7 L455.64,176.7 L456.71,179.7 L457.79,182.7 L458.86,185.7 L459.93,188.8 L461.00,191.8 L462.07,194.9 L463.14,198.0 L464.21,201.1 L465.29,204.2 L466.36,207.4 L467.43,210.5 L468.50,213.6 L469.57,216.8 L470.64,219.9 L471.71,223.0 L472.79,226.1 L473.86,229.2 L474.93,232.3 L476.00,235.3 L477.07,238.4 L478.14,241.4 L479.21,244.4 L480.29,247.3 L481.36,250.2 L482.43,253.1 L483.50,256.0 L484.57,258.8 L485.64,261.5 L486.71,264.2 L487.79,266.9 L488.86,269.5 L489.93,272.0 L491.00,274.5 L492.07,276.9 L493.14,279.2 L494.21,281.5 L495.29,283.7 L496.36,285.9 L497.43,288.0 L498.50,290.0 L499.57,291.9 L500.64,293.7 L501.71,295.5 L502.79,297.2 L503.86,298.8 L504.93,300.4 L506.00,301.9 L507.07,303.3 L508.14,304.6 L509.21,305.8 L510.29,307.0 L511.36,308.1 L512.43,309.1 L513.50,310.1 L514.57,311.0 L515.64,311.8 L516.71,312.6 L517.79,313.3 L518.86,314.0 L519.93,314.6 L521.00,315.1 L522.07,315.6 L523.14,316.1 L524.21,316.5 L525.29,316.8 L526.36,317.2 L527.43,317.5 L528.50,317.7 L529.57,318.0 L530.64,318.2 L531.71,318.3 L532.79,318.5 L533.86,318.6 L534.93,318.7 L536.00,318.8 L537.07,318.9 L538.14,319.0 L539.21,319.1 L540.29,319.1 L541.36,319.2 L543.50,319.2 L545.64,319.3 L549.93,319.3 L572.50,319.4" stroke="#BEBEBE"/>
<path d="M389.21,59.7 L390.29,60.6 L391.36,61.5 L392.43,62.5 L393.50,63.5 L394.57,64.5 L395.64,65.5 L396.71,66.6 L397.79,67.7 L398.86,68.8 L399.93,69.9 L401.00,71.1 L402.07,72.3 L403.14,73.5 L404.21,74.8 L405.29,76.1 L406.36,77.4 L407.43,78.7 L408.50,80.1 L409.57,81.5 L410.64,83.0 L411.71,84.5 L412.79,86.0 L413.86,87.6 L414.93,89.2 L416.00,90.8 L417.07,92.4 L418.14,94.2 L419.21,95.9 L420.29,97.7 L421.36,99.5 L422.43,101.3 L423.50,103.2 L424.57,105.2 L425.64,107.2 L426.71,109.2 L427.79,111.2 L428.86,113.3 L429.93,115.5 L431.00,117.7 L432.07,119.9 L433.14,122.1 L434.21,124.4 L435.29,126.8 L436.36,129.2 L437.43,131.6 L438.50,134.1 L439.57,136.6 L440.64,139.2 L441.71,141.8 L442.79,144.4 L443.86,147.1 L444.93,149.8 L446.00,152.6 L447.07,155.4 L448.14,158.2 L449.21,161.1 L450.29,164.0 L451.36,166.9 L452.43,169.9 L453.50,172.9 L454.57,176.0 L455.64,179.0 L456.71,182.1 L457.79,185.3 L458.86,188.4 L459.93,191.6 L461.00,194.8 L462.07,198.0 L463.14,201.2 L464.21,204.5 L465.29,207.7 L466.36,211.0 L467.43,214.3 L468.50,217.6 L469.57,220.9 L470.64,224.2 L471.71,227.5 L472.79,230.8 L473.86,234.0 L474.93,237.3 L476.00,240.6 L477.07,243.8 L478.14,247.0 L479.21,250.2 L480.29,253.4 L481.36,256.5 L482.43,259.6 L483.50,262.7 L484.57,265.7 L485.64,268.7 L486.71,271.6 L487.79,274.5 L488.86,277.3 L489.93,280.1 L491.00,282.8 L492.07,285.5 L493.14,288.1 L494.21,290.6 L495.29,293.0 L496.36,295.4 L497.43,297.7 L498.50,300.0 L499.57,302.2 L500.64,304.2 L501.71,306.3 L502.79,308.2 L503.86,310.0 L504.93,311.8 L506.00,313.5 L507.07,315.1 L508.14,316.6 L509.21,318.1 L510.29,319.5 L511.36,320.8 L512.43,322.0 L513.50,323.1 L514.57,324.2 L515.64,325.2 L516.71,326.1 L517.79,327.0 L518.86,327.8 L519.93,328.5 L521.00,329.2 L522.07,329.8 L523.14,330.4 L524.21,330.9 L525.29,331.3 L526.36,331.8 L527.43,332.1 L528.50,332.5 L529.57,332.8 L530.64,333.0 L531.71,333.3 L532.79,333.5 L533.86,333.7 L534.93,333.8 L536.00,334.0 L537.07,334.1 L538.14,334.2 L539.21,334.3 L540.29,334.4 L541.36,334.4 L542.43,334.5 L543.50,334.5 L545.64,334.6 L547.79,334.6 L552.07,334.7 L572.50,334.7" stroke="#BEBEBE"/>
<path d="M391.36,61.6 L392.43,62.6 L393.50,63.6 L394.57,64.6 L395.64,65.6 L396.71,66.7 L397.79,67.8 L398.86,68.9 L399.93,70.0 L401.00,71.2 L402.07,72.4 L403.14,73.7 L404.21,74.9 L405.29,76.2 L406.36,77.6 L407.43,78.9 L408.50,80.3 L409.57,81.8 L410.64,83.2 L411.71,84.7 L412.79,86.3 L413.86,87.8 L414.93,89.4 L416.00,91.1 L417.07,92.8 L418.14,94.5 L419.21,96.3 L420.29,98.1 L421.36,99.9 L422.43,101.8 L423.50,103.7 L424.57,105.7 L425.64,107.7 L426.71,109.7 L427.79,111.8 L428.86,113.9 L429.93,116.1 L431.00,118.3 L432.07,120.6 L433.14,122.9 L434.21,125.2 L435.29,127.6 L436.36,130.1 L437.43,132.5 L438.50,135.1 L439.57,137.6 L440.64,140.2 L441.71,142.9 L442.79,145.6 L443.86,148.3 L444.93,151.1 L446.00,153.9 L447.07,156.8 L448.14,159.7 L449.21,162.6 L450.29,165.6 L451.36,168.7 L452.43,171.7 L453.50,174.8 L454.57,178.0 L455.64,181.1 L456.71,184.3 L457.79,187.5 L458.86,190.8 L459.93,194.1 L461.00,197.4 L462.07,200.7 L463.14,204.1 L464.21,207.5 L465.29,210.9 L466.36,214.3 L467.43,217.7 L468.50,221.2 L469.57,224.6 L470.64,228.1 L471.71,231.5 L472.79,235.0 L473.86,238.4 L474.93,241.8 L476.00,245.3 L477.07,248.7 L478.14,252.1 L479.21,255.5 L480.29,258.8 L481.36,262.2 L482.43,265.5 L483.50,268.8 L484.57,272.0 L485.64,275.2 L486.71,278.3 L487.79,281.4 L488.86,284.5 L489.93,287.5 L491.00,290.4 L492.07,293.3 L493.14,296.2 L494.21,298.9 L495.29,301.6 L496.36,304.2 L497.43,306.8 L498.50,309.3 L499.57,311.7 L500.64,314.0 L501.71,316.2 L502.79,318.4 L503.86,320.5 L504.93,322.5 L506.00,324.4 L507.07,326.2 L508.14,327.9 L509.21,329.6 L510.29,331.2 L511.36,332.6 L512.43,334.1 L513.50,335.4 L514.57,336.6 L515.64,337.8 L516.71,338.9 L517.79,339.9 L518.86,340.9 L519.93,341.7 L521.00,342.5 L522.07,343.3 L523.14,344.0 L524.21,344.6 L525.29,345.2 L526.36,345.7 L527.43,346.2 L528.50,346.6 L529.57,347.0 L530.64,347.3 L531.71,347.6 L532.79,347.9 L533.86,348.1 L534.93,348.3 L536.00,348.5 L537.07,348.7 L538.14,348.8 L539.21,348.9 L540.29,349.0 L541.36,349.1 L542.43,349.2 L543.50,349.2 L544.57,349.3 L545.64,349.3 L547.79,349.4 L549.93,349.4 L554.21,349.5 L572.50,349.5" stroke="#BEBEBE"/>
<path d="M393.50,63.7 L394.57,64.7 L395.64,65.7 L396.71,66.8 L397.79,67.9 L398.86,69.0 L399.93,70.2 L401.00,71.4 L402.07,72.6 L403.14,73.8 L404.21,75.1 L405.29,76.4 L406.36,77.7 L407.43,79.1 L408.50,80.5 L409.57,82.0 L410.64,83.4 L411.71,84.9 L412.79,86.5 L413.86,88.1 L414.93,89.7 L416.00,91.4 L417.07,93.1 L418.14,94.8 L419.21,96.6 L420.29,98.4 L421.36,100.3 L422.43,102.2 L423.50,104.1 L424.57,106.1 L425.64,108.1 L426.71,110.2 L427.79,112.3 L428.86,114.5 L429.93,116.7 L431.00,118.9 L432.07,121.2 L433.14,123.5 L434.21,125.9 L435.29,128.3 L436.36,130.8 L437.43,133.3 L438.50,135.9 L439.57,138.5 L440.64,141.2 L441.71,143.9 L442.79,146.6 L443.86,149.4 L444.93,152.3 L446.00,155.1 L447.07,158.1 L448.14,161.0 L449.21,164.1 L450.29,167.1 L451.36,170.2 L452.43,173.4 L453.50,176.5 L454.57,179.7 L455.64,183.0 L456.71,186.3 L457.79,189.6 L458.86,193.0 L459.93,196.4 L461.00,199.8 L462.07,203.2 L463.14,206.7 L464.21,210.2 L465.29,213.7 L466.36,217.3 L467.43,220.8 L468.50,224.4 L469.57,228.0 L470.64,231.6 L471.71,235.2 L472.79,238.8 L473.86,242.4 L474.93,246.0 L476.00,249.6 L477.07,253.2 L478.14,256.7 L479.21,260.3 L480.29,263.8 L481.36,267.4 L482.43,270.9 L483.50,274.3 L484.57,277.8 L485.64,281.2 L486.71,284.5 L487.79,287.8 L488.86,291.1 L489.93,294.3 L491.00,297.5 L492.07,300.6 L493.14,303.6 L494.21,306.6 L495.29,309.5 L496.36,312.4 L497.43,315.2 L498.50,317.9 L499.57,320.5 L500.64,323.0 L501.71,325.5 L502.79,327.9 L503.86,330.2 L504.93,332.4 L506.00,334.5 L507.07,336.6 L508.14,338.5 L509.21,340.4 L510.29,342.1 L511.36,343.8 L512.43,345.4 L513.50,346.9 L514.57,348.4 L515.64,349.7 L516.71,351.0 L517.79,352.2 L518.86,353.3 L519.93,354.3 L521.00,355.2 L522.07,356.1 L523.14,356.9 L524.21,357.7 L525.29,358.4 L526.36,359.0 L527.43,359.6 L528.50,360.1 L529.57,360.5 L530.64,361.0 L531.71,361.3 L532.79,361.7 L533.86,362.0 L534.93,362.2 L536.00,362.5 L537.07,362.7 L538.14,362.8 L539.21,363.0 L540.29,363.1 L541.36,363.2 L542.43,363.3 L543.50,363.4 L544.57,363.5 L545.64,363.6 L546.71,363.6 L547.79,363.7 L549.93,363.7 L552.07,363.8 L556.36,363.8 L572.50,363.8" stroke="#BEBEBE"/>
<path d="M396.71,66.9 L397.79,68.0 L398.86,69.1 L399.93,70.3 L401.00,71.5 L402.07,72.7 L403.14,73.9 L404.21,75.2 L405.29,76.5 L406.36,77.9 L407.43,79.3 L408.50,80.7 L409.57,82.1 L410.64,83.6 L411.71,85.1 L412.79,86.7 L413.86,88.3 L414.93,89.9 L416.00,91.6 L417.07,93.3 L418.14,95.1 L419.21,96.9 L420.29,98.7 L421.36,100.6 L422.43,102.5 L423.50,104.5 L424.57,106.5 L425.64,108.5 L426.71,110.6 L427.79,112.7 L428.86,114.9 L429.93,117.2 L431.00,119.4 L432.07,121.8 L433.14,124.1 L434.21,126.5 L435.29,129.0 L436.36,131.5 L437.43,134.1 L438.50,136.7 L439.57,139.3 L440.64,142.0 L441.71,144.8 L442.79,147.6 L443.86,150.4 L444.93,153.3 L446.00,156.2 L447.07,159.2 L448.14,162.2 L449.21,165.3 L450.29,168.4 L451.36,171.6 L452.43,174.8 L453.50,178.1 L454.57,181.4 L455.64,184.7 L456.71,188.1 L457.79,191.5 L458.86,194.9 L459.93,198.4 L461.00,201.9 L462.07,205.5 L463.14,209.0 L464.21,212.7 L465.29,216.3 L466.36,219.9 L467.43,223.6 L468.50,227.3 L469.57,231.0 L470.64,234.7 L471.71,238.5 L472.79,242.2 L473.86,246.0 L474.93,249.7 L476.00,253.5 L477.07,257.2 L478.14,261.0 L479.21,264.7 L480.29,268.4 L481.36,272.1 L482.43,275.8 L483.50,279.4 L484.57,283.1 L485.64,286.7 L486.71,290.2 L487.79,293.7 L488.86,297.2 L489.93,300.6 L491.00,304.0 L492.07,307.3 L493.14,310.6 L494.21,313.7 L495.29,316.9 L496.36,319.9 L497.43,322.9 L498.50,325.9 L499.57,328.7 L500.64,331.5 L501.71,334.1 L502.79,336.7 L503.86,339.3 L504.93,341.7 L506.00,344.0 L507.07,346.3 L508.14,348.4 L509.21,350.5 L510.29,352.5 L511.36,354.4 L512.43,356.1 L513.50,357.8 L514.57,359.5 L515.64,361.0 L516.71,362.4 L517.79,363.8 L518.86,365.0 L519.93,366.2 L521.00,367.3 L522.07,368.3 L523.14,369.3 L524.21,370.1 L525.29,370.9 L526.36,371.7 L527.43,372.4 L528.50,373.0 L529.57,373.5 L530.64,374.0 L531.71,374.5 L532.79,374.9 L533.86,375.3 L534.93,375.6 L536.00,375.9 L537.07,376.1 L538.14,376.4 L539.21,376.5 L540.29,376.7 L541.36,376.9 L542.43,377.0 L543.50,377.1 L544.57,377.2 L545.64,377.3 L546.71,377.3 L547.79,377.4 L548.86,377.4 L551.00,377.5 L553.14,377.6 L556.36,377.6 L572.50,377.6" stroke="#BEBEBE"/>
<path d="M398.86,69.2 L399.93,70.4 L401.00,71.6 L402.07,72.8 L403.14,74.0 L404.21,75.3 L405.29,76.7 L406.36,78.0 L407.43,79.4 L408.50,80.8 L409.57,82.3 L410.64,83.8 L411.71,85.3 L412.79,86.9 L413.86,88.5 L414.93,90.1 L416.00,91.8 L417.07,93.6 L418.14,95.3 L419.21,97.1 L420.29,99.0 L421.36,100.9 L422.43,102.8 L423.50,104.8 L424.57,106.8 L425.64,108.9 L426.71,111.0 L427.79,113.1 L428.86,115.4 L429.93,117.6 L431.00,119.9 L432.07,122.3 L433.14,124.6 L434.21,127.1 L435.29,129.6 L436.36,132.1 L437.43,134.7 L438.50,137.4 L439.57,140.0 L440.64,142.8 L441.71,145.6 L442.79,148.4 L443.86,151.3 L444.93,154.2 L446.00,157.2 L447.07,160.3 L448.14,163.3 L449.21,166.5 L450.29,169.7 L451.36,172.9 L452.43,176.1 L453.50,179.5 L454.57,182.8 L455.64,186.2 L456.71,189.7 L457.79,193.2 L458.86,196.7 L459.93,200.3 L461.00,203.9 L462.07,207.5 L463.14,211.2 L464.21,214.9 L465.29,218.6 L466.36,222.4 L467.43,226.2 L468.50,230.0 L469.57,233.8 L470.64,237.7 L471.71,241.5 L472.79,245.4 L473.86,249.3 L474.93,253.2 L476.00,257.1 L477.07,261.0 L478.14,264.9 L479.21,268.7 L480.29,272.6 L481.36,276.5 L482.43,280.3 L483.50,284.1 L484.57,287.9 L485.64,291.7 L486.71,295.4 L487.79,299.1 L488.86,302.8 L489.93,306.4 L491.00,310.0 L492.07,313.5 L493.14,317.0 L494.21,320.4 L495.29,323.7 L496.36,327.0 L497.43,330.2 L498.50,333.3 L499.57,336.4 L500.64,339.3 L501.71,342.2 L502.79,345.0 L503.86,347.8 L504.93,350.4 L506.00,352.9 L507.07,355.4 L508.14,357.8 L509.21,360.0 L510.29,362.2 L511.36,364.3 L512.43,366.3 L513.50,368.1 L514.57,369.9 L515.64,371.6 L516.71,373.2 L517.79,374.8 L518.86,376.2 L519.93,377.5 L521.00,378.8 L522.07,379.9 L523.14,381.0 L524.21,382.0 L525.29,382.9 L526.36,383.8 L527.43,384.6 L528.50,385.3 L529.57,386.0 L530.64,386.6 L531.71,387.1 L532.79,387.6 L533.86,388.0 L534.93,388.4 L536.00,388.8 L537.07,389.1 L538.14,389.3 L539.21,389.6 L540.29,389.8 L541.36,390.0 L542.43,390.1 L543.50,390.3 L544.57,390.4 L545.64,390.5 L546.71,390.6 L547.79,390.7 L548.86,390.7 L549.93,390.8 L551.00,390.8 L553.14,390.9 L555.29,390.9 L559.57,391.0 L572.50,391.0" stroke="#BEBEBE"/>
<path d="M402.07,72.9 L403.14,74.1 L404.21,75.4 L405.29,76.8 L406.36,78.1 L407.43,79.5 L408.50,81.0 L409.57,82.4 L410.64,83.9 L411.71,85.5 L412.79,87.1 L413.86,88.7 L414.93,90.3 L416.00,92.0 L417.07,93.8 L418.14,95.5 L419.21,97.4 L420.29,99.2 L421.36,101.1 L422.43,103.1 L423.50,105.1 L424.57,107.1 L425.64,109.2 L426.71,111.3 L427.79,113.5 L428.86,115.7 L429.93,118.0 L431.00,120.3 L432.07,122.7 L433.14,125.1 L434.21,127.6 L435.29,130.1 L436.36,132.7 L437.43,135.3 L438.50,138.0 L439.57,140.7 L440.64,143.5 L441.71,146.3 L442.79,149.2 L443.86,152.1 L444.93,155.1 L446.00,158.1 L447.07,161.2 L448.14,164.3 L449.21,167.5 L450.29,170.7 L451.36,174.0 L452.43,177.4 L453.50,180.7 L454.57,184.2 L455.64,187.6 L456.71,191.2 L457.79,194.7 L458.86,198.3 L459.93,202.0 L461.00,205.6 L462.07,209.4 L463.14,213.1 L464.21,216.9 L465.29,220.8 L466.36,224.6 L467.43,228.5 L468.50,232.4 L469.57,236.4 L470.64,240.3 L471.71,244.3 L472.79,248.3 L473.86,252.3 L474.93,256.3 L476.00,260.4 L477.07,264.4 L478.14,268.4 L479.21,272.5 L480.29,276.5 L481.36,280.5 L482.43,284.5 L483.50,288.5 L484.57,292.5 L485.64,296.4 L486.71,300.3 L487.79,304.2 L488.86,308.0 L489.93,311.8 L491.00,315.6 L492.07,319.3 L493.14,322.9 L494.21,326.5 L495.29,330.0 L496.36,333.5 L497.43,336.9 L498.50,340.2 L499.57,343.5 L500.64,346.7 L501.71,349.8 L502.79,352.8 L503.86,355.7 L504.93,358.6 L506.00,361.3 L507.07,364.0 L508.14,366.5 L509.21,369.0 L510.29,371.3 L511.36,373.6 L512.43,375.8 L513.50,377.9 L514.57,379.8 L515.64,381.7 L516.71,383.5 L517.79,385.2 L518.86,386.8 L519.93,388.3 L521.00,389.7 L522.07,391.0 L523.14,392.2 L524.21,393.3 L525.29,394.4 L526.36,395.4 L527.43,396.3 L528.50,397.1 L529.57,397.9 L530.64,398.5 L531.71,399.2 L532.79,399.7 L533.86,400.3 L534.93,400.7 L536.00,401.1 L537.07,401.5 L538.14,401.8 L539.21,402.1 L540.29,402.4 L541.36,402.6 L542.43,402.8 L543.50,403.0 L544.57,403.1 L545.64,403.2 L546.71,403.4 L547.79,403.4 L548.86,403.5 L549.93,403.6 L551.00,403.6 L552.07,403.7 L554.21,403.8 L556.36,403.8 L560.64,403.8 L572.50,403.9" stroke="#BEBEBE"/>
<path d="M404.21,75.5 L405.29,76.9 L406.36,78.2 L407.43,79.6 L408.50,81.1 L409.57,82.6 L410.64,84.1 L411.71,85.6 L412.79,87.2 L413.86,88.8 L414.93,90.5 L416.00,92.2 L417.07,94.0 L418.14,95.7 L419.21,97.6 L420.29,99.5 L421.36,101.4 L422.43,103.3 L423.50,105.3 L424.57,107.4 L425.64,109.5 L426.71,111.6 L427.79,113.8 L428.86,116.1 L429.93,118.4 L431.00,120.7 L432.07,123.1 L433.14,125.6 L434.21,128.1 L435.29,130.6 L436.36,133.2 L437.43,135.8 L438.50,138.5 L439.57,141.3 L440.64,144.1 L441.71,147.0 L442.79,149.9 L443.86,152.8 L444.93,155.9 L446.00,158.9 L447.07,162.1 L448.14,165.2 L449.21,168.5 L450.29,171.7 L451.36,175.1 L452.43,178.5 L453.50,181.9 L454.57,185.4 L455.64,188.9 L456.71,192.5 L457.79,196.1 L458.86,199.8 L459.93,203.5 L461.00,207.3 L462.07,211.1 L463.14,214.9 L464.21,218.8 L465.29,222.7 L466.36,226.7 L467.43,230.7 L468.50,234.7 L469.57,238.7 L470.64,242.8 L471.71,246.9 L472.79,251.0 L473.86,255.1 L474.93,259.3 L476.00,263.4 L477.07,267.6 L478.14,271.7 L479.21,275.9 L480.29,280.1 L481.36,284.2 L482.43,288.4 L483.50,292.5 L484.57,296.6 L485.64,300.7 L486.71,304.8 L487.79,308.8 L488.86,312.8 L489.93,316.8 L491.00,320.7 L492.07,324.6 L493.14,328.5 L494.21,332.2 L495.29,336.0 L496.36,339.6 L497.43,343.2 L498.50,346.7 L499.57,350.2 L500.64,353.6 L501.71,356.9 L502.79,360.1 L503.86,363.2 L504.93,366.2 L506.00,369.2 L507.07,372.0 L508.14,374.8 L509.21,377.4 L510.29,380.0 L511.36,382.4 L512.43,384.8 L513.50,387.1 L514.57,389.2 L515.64,391.3 L516.71,393.2 L517.79,395.1 L518.86,396.8 L519.93,398.5 L521.00,400.0 L522.07,401.5 L523.14,402.8 L524.21,404.1 L525.29,405.3 L526.36,406.4 L527.43,407.4 L528.50,408.4 L529.57,409.2 L530.64,410.0 L531.71,410.8 L532.79,411.4 L533.86,412.0 L534.93,412.5 L536.00,413.0 L537.07,413.5 L538.14,413.9 L539.21,414.2 L540.29,414.5 L541.36,414.8 L542.43,415.0 L543.50,415.2 L544.57,415.4 L545.64,415.6 L546.71,415.7 L547.79,415.8 L548.86,415.9 L549.93,416.0 L551.00,416.0 L552.07,416.1 L553.14,416.2 L555.29,416.2 L557.43,416.3 L560.64,416.3 L572.50,416.3" stroke="#BEBEBE"/>
<path d="M407.43,79.7 L408.50,81.2 L409.57,82.7 L410.64,84.2 L411.71,85.8 L412.79,87.3 L413.86,89.0 L414.93,90.7 L416.00,92.4 L417.07,94.1 L418.14,95.9 L419.21,97.8 L420.29,99.7 L421.36,101.6 L422.43,103.6 L423.50,105.6 L424.57,107.7 L425.64,109.8 L426.71,111.9 L427.79,114.1 L428.86,116.4 L429.93,118.7 L431.00,121.1 L432.07,123.5 L433.14,126.0 L434.21,128.5 L435.29,131.0 L436.36,133.7 L437.43,136.3 L438.50,139.1 L439.57,141.8 L440.64,144.7 L441.71,147.6 L442.79,150.5 L443.86,153.5 L444.93,156.6 L446.00,159.7 L447.07,162.8 L448.14,166.1 L449.21,169.3 L450.29,172.7 L451.36,176.0 L452.43,179.5 L453.50,183.0 L454.57,186.5 L455.64,190.1 L456.71,193.7 L457.79,197.4 L458.86,201.2 L459.93,204.9 L461.00,208.8 L462.07,212.6 L463.14,216.6 L464.21,220.5 L465.29,224.5 L466.36,228.6 L467.43,232.6 L468.50,236.7 L469.57,240.9 L470.64,245.0 L471.71,249.2 L472.79,253.5 L473.86,257.7 L474.93,261.9 L476.00,266.2 L477.07,270.5 L478.14,274.8 L479.21,279.1 L480.29,283.4 L481.36,287.7 L482.43,292.0 L483.50,296.2 L484.57,300.5 L485.64,304.8 L486.71,309.0 L487.79,313.2 L488.86,317.3 L489.93,321.5 L491.00,325.6 L492.07,329.6 L493.14,333.6 L494.21,337.6 L495.29,341.5 L496.36,345.3 L497.43,349.1 L498.50,352.8 L499.57,356.4 L500.64,360.0 L501.71,363.5 L502.79,366.9 L503.86,370.2 L504.93,373.4 L506.00,376.6 L507.07,379.6 L508.14,382.6 L509.21,385.4 L510.29,388.1 L511.36,390.8 L512.43,393.3 L513.50,395.8 L514.57,398.1 L515.64,400.3 L516.71,402.4 L517.79,404.5 L518.86,406.4 L519.93,408.2 L521.00,409.9 L522.07,411.5 L523.14,413.0 L524.21,414.4 L525.29,415.7 L526.36,417.0 L527.43,418.1 L528.50,419.2 L529.57,420.1 L530.64,421.0 L531.71,421.9 L532.79,422.6 L533.86,423.3 L534.93,423.9 L536.00,424.5 L537.07,425.0 L538.14,425.4 L539.21,425.8 L540.29,426.2 L541.36,426.5 L542.43,426.8 L543.50,427.0 L544.57,427.2 L545.64,427.4 L546.71,427.6 L547.79,427.7 L548.86,427.8 L549.93,427.9 L551.00,428.0 L552.07,428.1 L553.14,428.2 L554.21,428.2 L555.29,428.3 L557.43,428.3 L559.57,428.4 L563.86,428.4 L572.50,428.4" stroke="#BEBEBE"/>
<path d="M410.64,84.3 L411.71,85.9 L412.79,87.5 L413.86,89.1 L414.93,90.8 L416.00,92.5 L417.07,94.3 L418.14,96.1 L419.21,98.0 L420.29,99.8 L421.36,101.8 L422.43,103.8 L423.50,105.8 L424.57,107.9 L425.64,110.0 L426.71,112.2 L427.79,114.4 L428.86,116.7 L429.93,119.0 L431.00,121.4 L432.07,123.8 L433.14,126.3 L434.21,128.9 L435.29,131.4 L436.36,134.1 L437.43,136.8 L438.50,139.5 L439.57,142.3 L440.64,145.2 L441.71,148.1 L442.79,151.1 L443.86,154.1 L444.93,157.2 L446.00,160.4 L447.07,163.6 L448.14,166.8 L449.21,170.1 L450.29,173.5 L451.36,176.9 L452.43,180.4 L453.50,183.9 L454.57,187.5 L455.64,191.2 L456.71,194.9 L457.79,198.6 L458.86,202.4 L459.93,206.3 L461.00,210.2 L462.07,214.1 L463.14,218.1 L464.21,222.1 L465.29,226.2 L466.36,230.3 L467.43,234.5 L468.50,238.7 L469.57,242.9 L470.64,247.1 L471.71,251.4 L472.79,255.7 L473.86,260.1 L474.93,264.4 L476.00,268.8 L477.07,273.2 L478.14,277.6 L479.21,282.0 L480.29,286.5 L481.36,290.9 L482.43,295.3 L483.50,299.7 L484.57,304.1 L485.64,308.5 L486.71,312.9 L487.79,317.2 L488.86,321.5 L489.93,325.8 L491.00,330.1 L492.07,334.3 L493.14,338.5 L494.21,342.6 L495.29,346.7 L496.36,350.7 L497.43,354.6 L498.50,358.5 L499.57,362.3 L500.64,366.1 L501.71,369.7 L502.79,373.3 L503.86,376.8 L504.93,380.2 L506.00,383.5 L507.07,386.8 L508.14,389.9 L509.21,392.9 L510.29,395.9 L511.36,398.7 L512.43,401.4 L513.50,404.0 L514.57,406.5 L515.64,408.9 L516.71,411.2 L517.79,413.4 L518.86,415.5 L519.93,417.4 L521.00,419.3 L522.07,421.0 L523.14,422.7 L524.21,424.3 L525.29,425.7 L526.36,427.1 L527.43,428.3 L528.50,429.5 L529.57,430.6 L530.64,431.6 L531.71,432.5 L532.79,433.4 L533.86,434.1 L534.93,434.8 L536.00,435.5 L537.07,436.0 L538.14,436.6 L539.21,437.0 L540.29,437.4 L541.36,437.8 L542.43,438.1 L543.50,438.4 L544.57,438.7 L545.64,438.9 L546.71,439.1 L547.79,439.2 L548.86,439.4 L549.93,439.5 L551.00,439.6 L552.07,439.7 L553.14,439.8 L554.21,439.8 L555.29,439.9 L556.36,439.9 L558.50,440.0 L560.64,440.0 L564.93,440.1 L572.50,440.1" stroke="#BEBEBE"/>
<path d="M413.86,89.2 L414.93,90.9 L416.00,92.7 L417.07,94.4 L418.14,96.3 L419.21,98.1 L420.29,100.0 L421.36,102.0 L422.43,104.0 L423.50,106.0 L424.57,108.1 L425.64,110.2 L426.71,112.4 L427.79,114.7 L428.86,117.0 L429.93,119.3 L431.00,121.7 L432.07,124.2 L433.14,126.7 L434.21,129.2 L435.29,131.8 L436.36,134.5 L437.43,137.2 L438.50,140.0 L439.57,142.8 L440.64,145.7 L441.71,148.6 L442.79,151.6 L443.86,154.7 L444.93,157.8 L446.00,161.0 L447.07,164.2 L448.14,167.5 L449.21,170.9 L450.29,174.3 L451.36,177.8 L452.43,181.3 L453.50,184.9 L454.57,188.5 L455.64,192.2 L456.71,195.9 L457.79,199.7 L458.86,203.6 L459.93,207.5 L461.00,211.4 L462.07,215.4 L463.14,219.5 L464.21,223.6 L465.29,227.7 L466.36,231.9 L467.43,236.2 L468.50,240.4 L469.57,244.7 L470.64,249.1 L471.71,253.5 L472.79,257.9 L473.86,262.3 L474.93,266.8 L476.00,271.2 L477.07,275.7 L478.14,280.3 L479.21,284.8 L480.29,289.3 L481.36,293.9 L482.43,298.4 L483.50,302.9 L484.57,307.5 L485.64,312.0 L486.71,316.5 L487.79,321.0 L488.86,325.5 L489.93,329.9 L491.00,334.3 L492.07,338.7 L493.14,343.0 L494.21,347.3 L495.29,351.5 L496.36,355.7 L497.43,359.8 L498.50,363.9 L499.57,367.8 L500.64,371.8 L501.71,375.6 L502.79,379.4 L503.86,383.0 L504.93,386.6 L506.00,390.1 L507.07,393.5 L508.14,396.8 L509.21,400.0 L510.29,403.1 L511.36,406.1 L512.43,409.0 L513.50,411.8 L514.57,414.5 L515.64,417.1 L516.71,419.5 L517.79,421.9 L518.86,424.1 L519.93,426.2 L521.00,428.2 L522.07,430.2 L523.14,432.0 L524.21,433.6 L525.29,435.2 L526.36,436.7 L527.43,438.1 L528.50,439.4 L529.57,440.6 L530.64,441.7 L531.71,442.7 L532.79,443.7 L533.86,444.5 L534.93,445.3 L536.00,446.0 L537.07,446.7 L538.14,447.3 L539.21,447.8 L540.29,448.3 L541.36,448.7 L542.43,449.1 L543.50,449.4 L544.57,449.7 L545.64,450.0 L546.71,450.2 L547.79,450.4 L548.86,450.5 L549.93,450.7 L551.00,450.8 L552.07,450.9 L553.14,451.0 L554.21,451.1 L555.29,451.1 L556.36,451.2 L557.43,451.2 L559.57,451.3 L561.71,451.3 L566.00,451.4 L572.50,451.4" stroke="#BEBEBE"/>
<path d="M418.14,96.4 L419.21,98.3 L420.29,100.2 L421.36,102.1 L422.43,104.1 L423.50,106.2 L424.57,108.3 L425.64,110.5 L426.71,112.7 L427.79,114.9 L428.86,117.2 L429.93,119.6 L431.00,122.0 L432.07,124.4 L433.14,127.0 L434.21,129.5 L435.29,132.2 L436.36,134.8 L437.43,137.6 L438.50,140.4 L439.57,143.2 L440.64,146.2 L441.71,149.1 L442.79,152.2 L443.86,155.2 L444.93,158.4 L446.00,161.6 L447.07,164.9 L448.14,168.2 L449.21,171.6 L450.29,175.0 L451.36,178.5 L452.43,182.1 L453.50,185.7 L454.57,189.4 L455.64,193.1 L456.71,196.9 L457.79,200.7 L458.86,204.6 L459.93,208.6 L461.00,212.6 L462.07,216.7 L463.14,220.8 L464.21,225.0 L465.29,229.2 L466.36,233.4 L467.43,237.7 L468.50,242.1 L469.57,246.5 L470.64,250.9 L471.71,255.3 L472.79,259.8 L473.86,264.4 L474.93,268.9 L476.00,273.5 L477.07,278.1 L478.14,282.7 L479.21,287.3 L480.29,292.0 L481.36,296.7 L482.43,301.3 L483.50,306.0 L484.57,310.6 L485.64,315.3 L486.71,319.9 L487.79,324.5 L488.86,329.1 L489.93,333.7 L491.00,338.3 L492.07,342.8 L493.14,347.3 L494.21,351.7 L495.29,356.1 L496.36,360.4 L497.43,364.7 L498.50,368.9 L499.57,373.1 L500.64,377.1 L501.71,381.1 L502.79,385.1 L503.86,388.9 L504.93,392.7 L506.00,396.3 L507.07,399.9 L508.14,403.4 L509.21,406.8 L510.29,410.1 L511.36,413.2 L512.43,416.3 L513.50,419.3 L514.57,422.1 L515.64,424.8 L516.71,427.4 L517.79,430.0 L518.86,432.3 L519.93,434.6 L521.00,436.8 L522.07,438.8 L523.14,440.8 L524.21,442.6 L525.29,444.3 L526.36,446.0 L527.43,447.5 L528.50,448.9 L529.57,450.2 L530.64,451.4 L531.71,452.5 L532.79,453.6 L533.86,454.5 L534.93,455.4 L536.00,456.2 L537.07,456.9 L538.14,457.6 L539.21,458.2 L540.29,458.7 L541.36,459.2 L542.43,459.6 L543.50,460.0 L544.57,460.4 L545.64,460.6 L546.71,460.9 L547.79,461.1 L548.86,461.3 L549.93,461.5 L551.00,461.6 L552.07,461.8 L553.14,461.9 L554.21,462.0 L555.29,462.0 L556.36,462.1 L557.43,462.2 L558.50,462.2 L560.64,462.3 L562.79,462.3 L567.07,462.3 L572.50,462.4" stroke="#BEBEBE"/>
<path d="M423.50,106.4 L424.57,108.5 L425.64,110.7 L426.71,112.9 L427.79,115.1 L428.86,117.5 L429.93,119.8 L431.00,122.2 L432.07,124.7 L433.14,127.3 L434.21,129.8 L435.29,132.5 L436.36,135.2 L437.43,137.9 L438.50,140.8 L439.57,143.6 L440.64,146.6 L441.71,149.6 L442.79,152.6 L443.86,155.7 L444.93,158.9 L446.00,162.1 L447.07,165.4 L448.14,168.8 L449.21,172.2 L450.29,175.7 L451.36,179.2 L452.43,182.8 L453.50,186.5 L454.57,190.2 L455.64,194.0 L456.71,197.8 L457.79,201.7 L458.86,205.6 L459.93,209.7 L461.00,213.7 L462.07,217.8 L463.14,222.0 L464.21,226.2 L465.29,230.5 L466.36,234.8 L467.43,239.2 L468.50,243.6 L469.57,248.1 L470.64,252.6 L471.71,257.1 L472.79,261.7 L473.86,266.3 L474.93,270.9 L476.00,275.6 L477.07,280.3 L478.14,285.0 L479.21,289.7 L480.29,294.5 L481.36,299.3 L482.43,304.0 L483.50,308.8 L484.57,313.6 L485.64,318.3 L486.71,323.1 L487.79,327.9 L488.86,332.6 L489.93,337.3 L491.00,342.0 L492.07,346.6 L493.14,351.2 L494.21,355.8 L495.29,360.4 L496.36,364.8 L497.43,369.3 L498.50,373.6 L499.57,378.0 L500.64,382.2 L501.71,386.4 L502.79,390.5 L503.86,394.5 L504.93,398.4 L506.00,402.2 L507.07,406.0 L508.14,409.6 L509.21,413.2 L510.29,416.6 L511.36,420.0 L512.43,423.2 L513.50,426.3 L514.57,429.3 L515.64,432.2 L516.71,435.0 L517.79,437.7 L518.86,440.2 L519.93,442.6 L521.00,444.9 L522.07,447.1 L523.14,449.2 L524.21,451.2 L525.29,453.1 L526.36,454.8 L527.43,456.4 L528.50,458.0 L529.57,459.4 L530.64,460.7 L531.71,462.0 L532.79,463.1 L533.86,464.2 L534.93,465.1 L536.00,466.0 L537.07,466.8 L538.14,467.5 L539.21,468.2 L540.29,468.8 L541.36,469.3 L542.43,469.8 L543.50,470.3 L544.57,470.6 L545.64,471.0 L546.71,471.3 L547.79,471.5 L548.86,471.8 L549.93,472.0 L551.00,472.1 L552.07,472.3 L553.14,472.4 L554.21,472.5 L555.29,472.6 L556.36,472.7 L557.43,472.7 L558.50,472.8 L559.57,472.8 L561.71,472.9 L563.86,472.9 L568.14,473.0 L572.50,473.0" stroke="#BEBEBE"/>
<path d="M429.93,120.0 L431.00,122.5 L432.07,125.0 L433.14,127.5 L434.21,130.1 L435.29,132.8 L436.36,135.5 L437.43,138.3 L438.50,141.1 L439.57,144.0 L440.64,147.0 L441.71,150.0 L442.79,153.0 L443.86,156.2 L444.93,159.4 L446.00,162.6 L447.07,166.0 L448.14,169.3 L449.21,172.8 L450.29,176.3 L451.36,179.9 L452.43,183.5 L453.50,187.2 L454.57,190.9 L455.64,194.8 L456.71,198.6 L457.79,202.6 L458.86,206.6 L459.93,210.6 L461.00,214.7 L462.07,218.9 L463.14,223.1 L464.21,227.4 L465.29,231.8 L466.36,236.1 L467.43,240.6 L468.50,245.0 L469.57,249.6 L470.64,254.1 L471.71,258.8 L472.79,263.4 L473.86,268.1 L474.93,272.8 L476.00,277.6 L477.07,282.4 L478.14,287.2 L479.21,292.0 L480.29,296.8 L481.36,301.7 L482.43,306.6 L483.50,311.5 L484.57,316.3 L485.64,321.2 L486.71,326.1 L487.79,331.0 L488.86,335.8 L489.93,340.7 L491.00,345.5 L492.07,350.3 L493.14,355.0 L494.21,359.7 L495.29,364.4 L496.36,369.0 L497.43,373.6 L498.50,378.1 L499.57,382.6 L500.64,387.0 L501.71,391.3 L502.79,395.6 L503.86,399.7 L504.93,403.8 L506.00,407.8 L507.07,411.7 L508.14,415.5 L509.21,419.2 L510.29,422.8 L511.36,426.3 L512.43,429.7 L513.50,433.0 L514.57,436.2 L515.64,439.2 L516.71,442.2 L517.79,445.0 L518.86,447.7 L519.93,450.3 L521.00,452.7 L522.07,455.1 L523.14,457.3 L524.21,459.4 L525.29,461.4 L526.36,463.3 L527.43,465.0 L528.50,466.7 L529.57,468.2 L530.64,469.7 L531.71,471.0 L532.79,472.3 L533.86,473.4 L534.93,474.5 L536.00,475.4 L537.07,476.3 L538.14,477.1 L539.21,477.9 L540.29,478.5 L541.36,479.1 L542.43,479.7 L543.50,480.1 L544.57,480.6 L545.64,481.0 L546.71,481.3 L547.79,481.6 L548.86,481.8 L549.93,482.1 L551.00,482.3 L552.07,482.4 L553.14,482.6 L554.21,482.7 L555.29,482.8 L556.36,482.9 L557.43,483.0 L558.50,483.0 L559.57,483.1 L560.64,483.1 L562.79,483.2 L564.93,483.2 L569.21,483.3 L572.50,483.3" stroke="#BEBEBE"/>
<path d="M438.50,141.4 L439.57,144.3 L440.64,147.3 L441.71,150.4 L442.79,153.4 L443.86,156.6 L444.93,159.8 L446.00,163.1 L447.07,166.5 L448.14,169.9 L449.21,173.3 L450.29,176.9 L451.36,180.5 L452.43,184.1 L453.50,187.9 L454.57,191.7 L455.64,195.5 L456.71,199.4 L457.79,203.4 L458.86,207.4 L459.93,211.5 L461.00,215.7 L462.07,219.9 L463.14,224.2 L464.21,228.5 L465.29,232.9 L466.36,237.4 L467.43,241.8 L468.50,246.4 L469.57,251.0 L470.64,255.6 L471.71,260.3 L472.79,265.0 L473.86,269.8 L474.93,274.6 L476.00,279.4 L477.07,284.3 L478.14,289.2 L479.21,294.1 L480.29,299.0 L481.36,304.0 L482.43,309.0 L483.50,313.9 L484.57,318.9 L485.64,323.9 L486.71,328.9 L487.79,333.9 L488.86,338.9 L489.93,343.8 L491.00,348.8 L492.07,353.7 L493.14,358.6 L494.21,363.4 L495.29,368.2 L496.36,373.0 L497.43,377.7 L498.50,382.4 L499.57,387.0 L500.64,391.5 L501.71,396.0 L502.79,400.4 L503.86,404.7 L504.93,408.9 L506.00,413.1 L507.07,417.2 L508.14,421.1 L509.21,425.0 L510.29,428.7 L511.36,432.4 L512.43,436.0 L513.50,439.4 L514.57,442.7 L515.64,445.9 L516.71,449.0 L517.79,452.0 L518.86,454.8 L519.93,457.6 L521.00,460.2 L522.07,462.7 L523.14,465.0 L524.21,467.3 L525.29,469.4 L526.36,471.4 L527.43,473.3 L528.50,475.1 L529.57,476.7 L530.64,478.3 L531.71,479.7 L532.79,481.1 L533.86,482.3 L534.93,483.5 L536.00,484.5 L537.07,485.5 L538.14,486.4 L539.21,487.2 L540.29,487.9 L541.36,488.6 L542.43,489.2 L543.50,489.7 L544.57,490.2 L545.64,490.6 L546.71,491.0 L547.79,491.3 L548.86,491.6 L549.93,491.9 L551.00,492.1 L552.07,492.3 L553.14,492.4 L554.21,492.6 L555.29,492.7 L556.36,492.8 L557.43,492.9 L558.50,493.0 L559.57,493.0 L560.64,493.1 L561.71,493.1 L563.86,493.2 L567.07,493.2 L572.50,493.2" stroke="#BEBEBE"/>
<path d="M453.50,188.5 L454.57,192.3 L455.64,196.2 L456.71,200.2 L457.79,204.2 L458.86,208.3 L459.93,212.4 L461.00,216.6 L462.07,220.9 L463.14,225.2 L464.21,229.6 L465.29,234.0 L466.36,238.5 L467.43,243.1 L468.50,247.7 L469.57,252.3 L470.64,257.0 L471.71,261.8 L472.79,266.5 L473.86,271.4 L474.93,276.2 L476.00,281.2 L477.07,286.1 L478.14,291.1 L479.21,296.1 L480.29,301.1 L481.36,306.2 L482.43,311.2 L483.50,316.3 L484.57,321.4 L485.64,326.5 L486.71,331.6 L487.79,336.7 L488.86,341.7 L489.93,346.8 L491.00,351.9 L492.07,356.9 L493.14,361.9 L494.21,366.9 L495.29,371.8 L496.36,376.7 L497.43,381.6 L498.50,386.4 L499.57,391.1 L500.64,395.8 L501.71,400.4 L502.79,405.0 L503.86,409.4 L504.93,413.8 L506.00,418.1 L507.07,422.3 L508.14,426.4 L509.21,430.5 L510.29,434.4 L511.36,438.2 L512.43,441.9 L513.50,445.5 L514.57,449.0 L515.64,452.3 L516.71,455.6 L517.79,458.7 L518.86,461.7 L519.93,464.6 L521.00,467.3 L522.07,469.9 L523.14,472.4 L524.21,474.8 L525.29,477.1 L526.36,479.2 L527.43,481.2 L528.50,483.1 L529.57,484.9 L530.64,486.5 L531.71,488.1 L532.79,489.5 L533.86,490.9 L534.93,492.1 L536.00,493.3 L537.07,494.3 L538.14,495.3 L539.21,496.2 L540.29,497.0 L541.36,497.7 L542.43,498.3 L543.50,498.9 L544.57,499.5 L545.64,499.9 L546.71,500.3 L547.79,500.7 L548.86,501.0 L549.93,501.3 L551.00,501.6 L552.07,501.8 L553.14,502.0 L554.21,502.1 L555.29,502.3 L556.36,502.4 L557.43,502.5 L558.50,502.6 L559.57,502.6 L560.64,502.7 L561.71,502.8 L563.86,502.8 L566.00,502.9 L570.29,502.9 L572.50,502.9" stroke="#BEBEBE"/>
<path d="M62.43,29.3 L163.14,29.3 L187.79,29.4 L202.79,29.4 L213.50,29.5 L222.07,29.5 L228.50,29.6 L233.86,29.6 L239.21,29.7 L243.50,29.7 L247.79,29.7 L251.00,29.8 L254.21,29.8 L257.43,29.9 L260.64,29.9 L262.79,30.0 L264.93,30.0 L267.07,30.1 L269.21,30.1 L271.36,30.2 L273.50,30.2 L275.64,30.3 L277.79,30.4 L279.93,30.4 L282.07,30.5 L283.14,30.5 L284.21,30.6 L285.29,30.6 L286.36,30.7 L287.43,30.7 L288.50,30.8 L289.57,30.8 L290.64,30.9 L291.71,30.9 L292.79,31.0 L293.86,31.0 L294.93,31.1 L296.00,31.1 L297.07,31.2 L298.14,31.2 L299.21,31.3 L300.29,31.4 L301.36,31.4 L302.43,31.5 L303.50,31.6 L304.57,31.7 L305.64,31.7 L306.71,31.8 L307.79,31.9 L308.86,32.0 L309.93,32.1 L311.00,32.2 L312.07,32.3 L313.14,32.4 L314.21,32.5 L315.29,32.6 L316.36,32.7 L317.43,32.8 L318.50,32.9 L319.57,33.1 L320.64,33.2 L321.71,33.3 L322.79,33.5 L323.86,33.6 L324.93,33.7 L326.00,33.9 L327.07,34.1 L328.14,34.2 L329.21,34.4 L330.29,34.6 L331.36,34.7 L332.43,34.9 L333.50,35.1 L334.57,35.3 L335.64,35.5 L336.71,35.7 L337.79,36.0 L338.86,36.2 L339.93,36.4 L341.00,36.7 L342.07,36.9 L343.14,37.2 L344.21,37.4 L345.29,37.7 L346.36,38.0 L347.43,38.3 L348.50,38.6 L349.57,38.9 L350.64,39.2 L351.71,39.5 L352.79,39.9 L353.86,40.2 L354.93,40.6 L356.00,41.0 L357.07,41.4 L358.14,41.8 L359.21,42.2 L360.29,42.6 L361.36,43.1 L362.43,43.5 L363.50,44.0 L364.57,44.5 L365.64,44.9 L366.71,45.5 L367.79,46.0 L368.86,46.5 L369.93,47.1 L371.00,47.6 L372.07,48.2 L373.14,48.8 L374.21,49.5 L375.29,50.1 L376.36,50.8 L377.43,51.4 L378.50,52.1 L379.57,52.9 L380.64,53.6 L381.71,54.3 L382.79,55.1 L383.86,55.9 L384.93,56.8 L386.00,57.6 L387.07,58.5 L388.14,59.4 L389.21,60.3 L390.29,61.2 L391.36,62.2 L392.43,63.2 L393.50,64.2 L394.57,65.3 L395.64,66.4 L396.71,67.5 L397.79,68.6 L398.86,69.8 L399.93,71.0 L401.00,72.2 L402.07,73.5 L403.14,74.8 L404.21,76.1 L405.29,77.5 L406.36,78.9 L407.43,80.3 L408.50,81.8 L409.57,83.3 L410.64,84.9 L411.71,86.5 L412.79,88.1 L413.86,89.8 L414.93,91.5 L416.00,93.3 L417.07,95.1 L418.14,97.0 L419.21,98.9 L420.29,100.8 L421.36,102.8 L422.43,104.9 L423.50,107.0 L424.57,109.1 L425.64,111.3 L426.71,113.6 L427.79,115.9 L428.86,118.2 L429.93,120.6 L431.00,123.1 L432.07,125.6 L433.14,128.2 L434.21,130.9 L435.29,133.6 L436.36,136.3 L437.43,139.1 L438.50,142.0 L439.57,145.0 L440.64,148.0 L441.71,151.0 L442.79,154.2 L443.86,157.4 L444.93,160.6 L446.00,164.0 L447.07,167.4 L448.14,170.8 L449.21,174.3 L450.29,177.9 L451.36,181.6 L452.43,185.3 L453.50,189.1 L454.57,193.0 L455.64,196.9 L456.71,200.9 L457.79,204.9 L458.86,209.0 L459.93,213.2 L461.00,217.4 L462.07,221.8 L463.14,226.1 L464.21,230.5 L465.29,235.0 L466.36,239.6 L467.43,244.2 L468.50,248.8 L469.57,253.5 L470.64,258.3 L471.71,263.1 L472.79,268.0 L473.86,272.9 L474.93,277.8 L476.00,282.8 L477.07,287.8 L478.14,292.9 L479.21,297.9 L480.29,303.1 L481.36,308.2 L482.43,313.3 L483.50,318.5 L484.57,323.7 L485.64,328.9 L486.71,334.1 L487.79,339.3 L488.86,344.5 L489.93,349.6 L491.00,354.8 L492.07,360.0 L493.14,365.1 L494.21,370.2 L495.29,375.2 L496.36,380.3 L497.43,385.2 L498.50,390.2 L499.57,395.0 L500.64,399.9 L501.71,404.6 L502.79,409.3 L503.86,413.9 L504.93,418.4 L506.00,422.9 L507.07,427.2 L508.14,431.5 L509.21,435.7 L510.29,439.7 L511.36,443.7 L512.43,447.6 L513.50,451.3 L514.57,454.9 L515.64,458.4 L516.71,461.8 L517.79,465.1 L518.86,468.2 L519.93,471.2 L521.00,474.1 L522.07,476.9 L523.14,479.5 L524.21,482.0 L525.29,484.4 L526.36,486.7 L527.43,488.8 L528.50,490.8 L529.57,492.7 L530.64,494.5 L531.71,496.1 L532.79,497.7 L533.86,499.1 L534.93,500.5 L536.00,501.7 L537.07,502.8 L538.14,503.9 L539.21,504.8 L540.29,505.7 L541.36,506.5 L542.43,507.2 L543.50,507.9 L544.57,508.4 L545.64,509.0 L546.71,509.4 L547.79,509.8 L548.86,510.2 L549.93,510.5 L551.00,510.8 L552.07,511.0 L553.14,511.2 L554.21,511.4 L555.29,511.6 L556.36,511.7 L557.43,511.8 L558.50,511.9 L559.57,512.0 L560.64,512.1 L561.71,512.1 L562.79,512.2 L564.93,512.2 L567.07,512.3 L572.50,512.3" stroke="#009E73"/>
</g></g>
<rect x="88.67" y="19.33" width="712.33" height="510.00" fill="none" stroke="#000" stroke-width="1.33"/>
<path d="M801.0,19.33 V529.33" stroke="#000" stroke-opacity="0.5" stroke-width="1.6" fill="none"/>
<g>
<text x="51.20" y="536.48" font-size="20">0.5</text>
<text x="40.07" y="486.48" font-size="20">0.55</text>
<text x="51.20" y="436.48" font-size="20">0.6</text>
<text x="40.07" y="386.48" font-size="20">0.65</text>
<text x="51.20" y="336.48" font-size="20">0.7</text>
<text x="40.07" y="286.48" font-size="20">0.75</text>
<text x="51.20" y="236.48" font-size="20">0.8</text>
<text x="40.07" y="186.48" font-size="20">0.85</text>
<text x="51.20" y="136.48" font-size="20">0.9</text>
<text x="40.07" y="86.48" font-size="20">0.95</text>
<path transform="translate(67.88,36.48) scale(0.009766,-0.009766)" d="M763 0H583V1147Q518 1085 412.5 1023Q307 961 223 930V1104Q374 1175 487 1276Q600 1377 647 1472H763Z"/>
</g>
<g>
<path transform="translate(68.42,553.75) scale(0.009766,-0.009766)" d="M763 0H583V1147Q518 1085 412.5 1023Q307 961 223 930V1104Q374 1175 487 1276Q600 1377 647 1472H763Z"/><text x="79.55" y="553.75" font-size="20">0</text><path d="M91.12,540.65 h7.90" stroke="#000" stroke-width="1.25" fill="none"/><text x="100.02" y="544.05" font-size="16">2</text>
<path transform="translate(187.15,553.75) scale(0.009766,-0.009766)" d="M763 0H583V1147Q518 1085 412.5 1023Q307 961 223 930V1104Q374 1175 487 1276Q600 1377 647 1472H763Z"/><text x="198.27" y="553.75" font-size="20">0</text><path d="M209.84,540.65 h7.90" stroke="#000" stroke-width="1.25" fill="none"/><path transform="translate(218.74,544.05) scale(0.007812,-0.007812)" d="M763 0H583V1147Q518 1085 412.5 1023Q307 961 223 930V1104Q374 1175 487 1276Q600 1377 647 1472H763Z"/>
<path transform="translate(310.54,553.75) scale(0.009766,-0.009766)" d="M763 0H583V1147Q518 1085 412.5 1023Q307 961 223 930V1104Q374 1175 487 1276Q600 1377 647 1472H763Z"/><text x="321.66" y="553.75" font-size="20">0</text><text x="332.79" y="544.05" font-size="16">0</text>
<path transform="translate(429.26,553.75) scale(0.009766,-0.009766)" d="M763 0H583V1147Q518 1085 412.5 1023Q307 961 223 930V1104Q374 1175 487 1276Q600 1377 647 1472H763Z"/><text x="440.39" y="553.75" font-size="20">0</text><path transform="translate(451.51,544.05) scale(0.007812,-0.007812)" d="M763 0H583V1147Q518 1085 412.5 1023Q307 961 223 930V1104Q374 1175 487 1276Q600 1377 647 1472H763Z"/>
<path transform="translate(547.98,553.75) scale(0.009766,-0.009766)" d="M763 0H583V1147Q518 1085 412.5 1023Q307 961 223 930V1104Q374 1175 487 1276Q600 1377 647 1472H763Z"/><text x="559.11" y="553.75" font-size="20">0</text><text x="570.23" y="544.05" font-size="16">2</text>
<path transform="translate(666.70,553.75) scale(0.009766,-0.009766)" d="M763 0H583V1147Q518 1085 412.5 1023Q307 961 223 930V1104Q374 1175 487 1276Q600 1377 647 1472H763Z"/><text x="677.83" y="553.75" font-size="20">0</text><text x="688.95" y="544.05" font-size="16">3</text>
<path transform="translate(785.43,553.75) scale(0.009766,-0.009766)" d="M763 0H583V1147Q518 1085 412.5 1023Q307 961 223 930V1104Q374 1175 487 1276Q600 1377 647 1472H763Z"/><text x="796.55" y="553.75" font-size="20">0</text><text x="807.67" y="544.05" font-size="16">4</text>
</g>
<text transform="translate(445.1,576.2) scale(1.18,1)" text-anchor="middle">τ</text>
<text transform="translate(19.1,281.3) rotate(-90)" font-size="21.8">ε</text>
<text transform="translate(24.1,271.6) rotate(-90)" font-size="16">i</text>
<rect x="98.5" y="215.5" width="184.8" height="117.5" fill="none" stroke="#5c5c5c" stroke-width="1" stroke-dasharray="1 2.47"/>
<path d="M110.1,230.15 H164.6" stroke="#D55E00" stroke-width="2" fill="none"/>
<text transform="translate(176.60,236.60) scale(0.963,1)" font-size="20">R/r</text>
<text transform="translate(202.27,242.60) scale(0.97,1)" font-size="16">d</text>
<path d="M211.88,230.85 h9.9 M211.88,234.15 h9.9" stroke="#000" stroke-width="1.35" fill="none"/>
<path transform="translate(222.10,236.60) scale(0.009766,-0.009766)" d="M763 0H583V1147Q518 1085 412.5 1023Q307 961 223 930V1104Q374 1175 487 1276Q600 1377 647 1472H763Z"/><text x="233.22" y="236.60" font-size="20">0</text>
<text x="244.40" y="226.90" font-size="16">2</text>
<path d="M110.1,259.55 H164.6" stroke="#E69F00" stroke-width="2" fill="none"/>
<text transform="translate(176.60,266.00) scale(0.963,1)" font-size="20">R/r</text>
<text transform="translate(202.27,272.00) scale(0.97,1)" font-size="16">d</text>
<path d="M211.88,260.25 h9.9 M211.88,263.55 h9.9" stroke="#000" stroke-width="1.35" fill="none"/>
<path transform="translate(222.10,266.00) scale(0.009766,-0.009766)" d="M763 0H583V1147Q518 1085 412.5 1023Q307 961 223 930V1104Q374 1175 487 1276Q600 1377 647 1472H763Z"/><text x="233.22" y="266.00" font-size="20">0</text>
<text x="244.40" y="256.30" font-size="16">3</text>
<path d="M110.1,288.95 H164.6" stroke="#0072B2" stroke-width="2" fill="none"/>
<text transform="translate(176.60,295.40) scale(0.963,1)" font-size="20">R/r</text>
<text transform="translate(202.27,301.40) scale(0.97,1)" font-size="16">d</text>
<path d="M211.88,289.65 h9.9 M211.88,292.95 h9.9" stroke="#000" stroke-width="1.35" fill="none"/>
<path transform="translate(222.10,295.40) scale(0.009766,-0.009766)" d="M763 0H583V1147Q518 1085 412.5 1023Q307 961 223 930V1104Q374 1175 487 1276Q600 1377 647 1472H763Z"/><text x="233.22" y="295.40" font-size="20">0</text>
<text x="244.40" y="285.70" font-size="16">4</text>
<path d="M110.1,318.45 H164.6" stroke="#009E73" stroke-width="2" fill="none"/>
<text transform="translate(176.60,324.90) scale(0.963,1)" font-size="20">R/r</text>
<text transform="translate(202.27,330.90) scale(0.97,1)" font-size="16">d</text>
<path d="M211.88,319.15 h9.9 M211.88,322.45 h9.9" stroke="#000" stroke-width="1.35" fill="none"/>
<text x="222.20" y="324.90" font-size="20">3</text>
<path d="M234.50,315.10 L243.60,324.20 M234.50,324.20 L243.60,315.10" stroke="#000" stroke-width="1.35" fill="none"/>
<path transform="translate(244.00,324.90) scale(0.009766,-0.009766)" d="M763 0H583V1147Q518 1085 412.5 1023Q307 961 223 930V1104Q374 1175 487 1276Q600 1377 647 1472H763Z"/><text x="255.12" y="324.90" font-size="20">0</text>
<text x="266.00" y="315.40" font-size="16">4</text>
</svg>
</body></html>
